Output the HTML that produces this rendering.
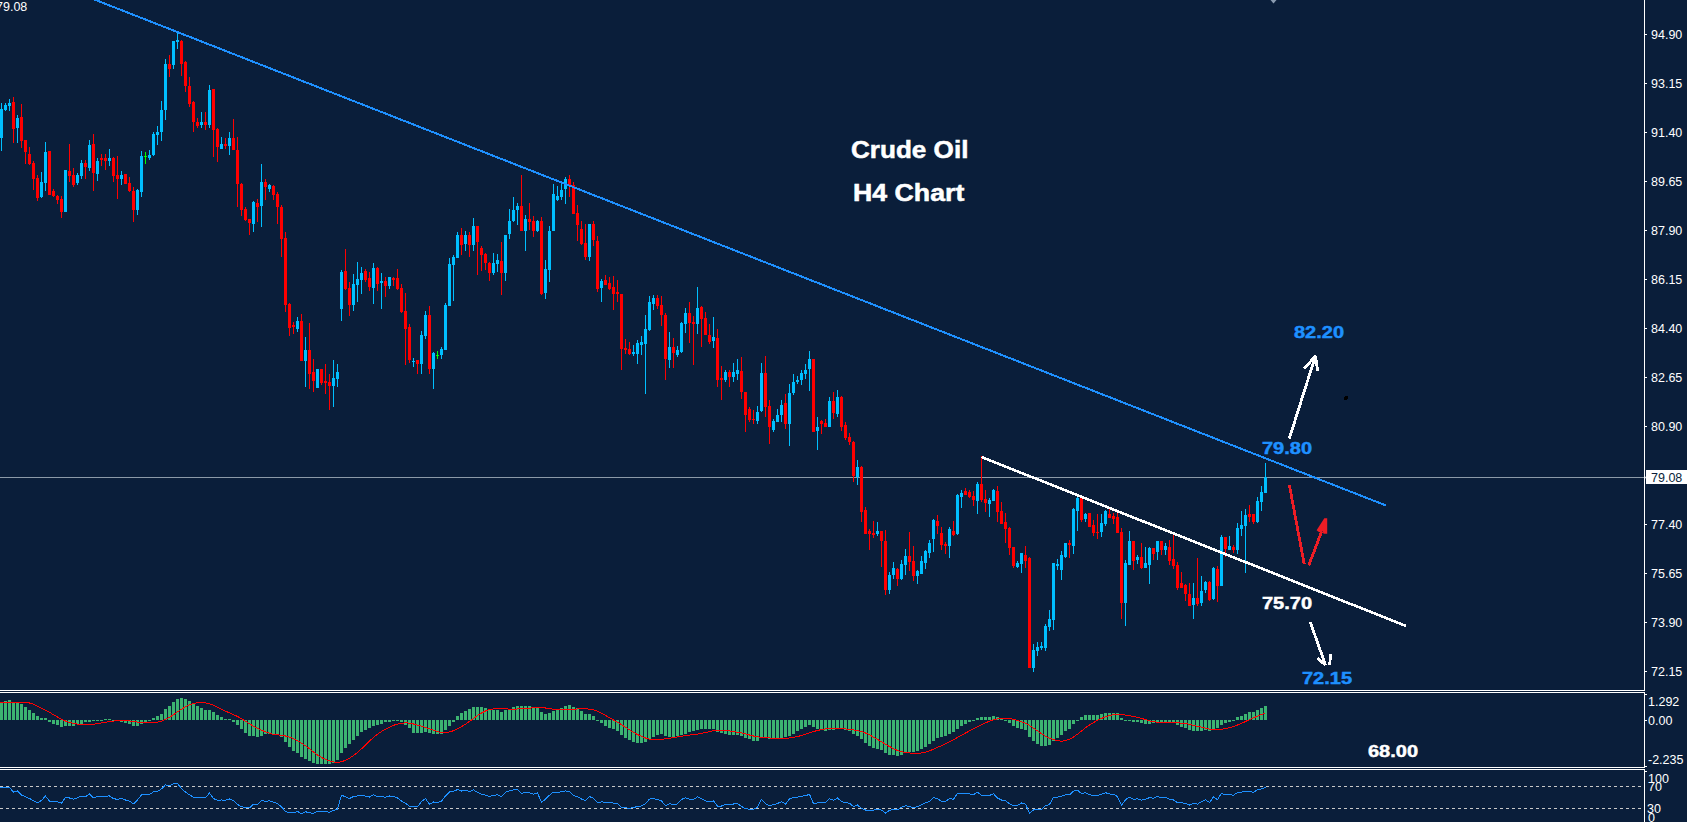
<!DOCTYPE html>
<html><head><meta charset="utf-8"><style>
html,body{margin:0;padding:0;width:1687px;height:822px;overflow:hidden;background:#0a1e3a;}
.ax{position:absolute;font-family:"Liberation Sans",sans-serif;font-size:12.5px;line-height:14px;color:#ffffff;white-space:nowrap;}
.dk{color:#0a1e3a;}
.ttl{position:absolute;-webkit-text-stroke:0.5px #ffffff;font-family:"Liberation Sans",sans-serif;font-weight:bold;font-size:23px;line-height:26px;color:#ffffff;white-space:nowrap;transform-origin:0 0;}
.lv{position:absolute;-webkit-text-stroke:0.45px currentColor;font-family:"Liberation Sans",sans-serif;font-weight:bold;font-size:16px;line-height:18px;white-space:nowrap;transform-origin:0 0;}
</style></head><body>
<svg width="1687" height="822" viewBox="0 0 1687 822" style="position:absolute;left:0;top:0"><rect x="0" y="477" width="1644" height="1" fill="#8c9aa8"/><g shape-rendering="crispEdges"><rect x="1" y="103" width="1" height="48" fill="#00bfff"/><rect x="0" y="109" width="3" height="29" fill="#00bfff"/><rect x="5" y="103" width="1" height="8" fill="#00bfff"/><rect x="4" y="105" width="3" height="5" fill="#00bfff"/><rect x="9" y="99" width="1" height="12" fill="#00bfff"/><rect x="8" y="103" width="3" height="3" fill="#00bfff"/><rect x="13" y="97" width="1" height="46" fill="#ff0000"/><rect x="12" y="102" width="3" height="27" fill="#ff0000"/><rect x="17" y="115" width="1" height="28" fill="#00bfff"/><rect x="16" y="118" width="3" height="10" fill="#00bfff"/><rect x="21" y="104" width="1" height="44" fill="#ff0000"/><rect x="20" y="117" width="3" height="24" fill="#ff0000"/><rect x="25" y="140" width="1" height="24" fill="#ff0000"/><rect x="24" y="140" width="3" height="12" fill="#ff0000"/><rect x="29" y="147" width="1" height="18" fill="#ff0000"/><rect x="28" y="154" width="3" height="10" fill="#ff0000"/><rect x="33" y="161" width="1" height="29" fill="#ff0000"/><rect x="32" y="163" width="3" height="16" fill="#ff0000"/><rect x="37" y="175" width="1" height="26" fill="#ff0000"/><rect x="36" y="178" width="3" height="20" fill="#ff0000"/><rect x="41" y="172" width="1" height="26" fill="#00bfff"/><rect x="40" y="182" width="3" height="15" fill="#00bfff"/><rect x="45" y="142" width="1" height="49" fill="#00bfff"/><rect x="44" y="152" width="3" height="31" fill="#00bfff"/><rect x="49" y="151" width="1" height="44" fill="#ff0000"/><rect x="48" y="151" width="3" height="44" fill="#ff0000"/><rect x="53" y="189" width="1" height="8" fill="#ff0000"/><rect x="52" y="191" width="3" height="5" fill="#ff0000"/><rect x="57" y="195" width="1" height="9" fill="#ff0000"/><rect x="56" y="196" width="3" height="4" fill="#ff0000"/><rect x="61" y="196" width="1" height="22" fill="#ff0000"/><rect x="60" y="199" width="3" height="13" fill="#ff0000"/><rect x="65" y="170" width="1" height="42" fill="#00bfff"/><rect x="64" y="170" width="3" height="42" fill="#00bfff"/><rect x="69" y="144" width="1" height="38" fill="#ff0000"/><rect x="68" y="171" width="3" height="5" fill="#ff0000"/><rect x="73" y="168" width="1" height="19" fill="#ff0000"/><rect x="72" y="175" width="3" height="10" fill="#ff0000"/><rect x="77" y="173" width="1" height="12" fill="#00bfff"/><rect x="76" y="175" width="3" height="8" fill="#00bfff"/><rect x="81" y="160" width="1" height="19" fill="#00bfff"/><rect x="80" y="163" width="3" height="13" fill="#00bfff"/><rect x="85" y="160" width="1" height="19" fill="#ff0000"/><rect x="84" y="163" width="3" height="4" fill="#ff0000"/><rect x="89" y="140" width="1" height="31" fill="#00bfff"/><rect x="88" y="145" width="3" height="23" fill="#00bfff"/><rect x="93" y="134" width="1" height="57" fill="#ff0000"/><rect x="92" y="144" width="3" height="29" fill="#ff0000"/><rect x="97" y="158" width="1" height="23" fill="#00bfff"/><rect x="96" y="161" width="3" height="13" fill="#00bfff"/><rect x="101" y="154" width="1" height="12" fill="#ff0000"/><rect x="100" y="158" width="3" height="2" fill="#ff0000"/><rect x="105" y="154" width="1" height="16" fill="#ff0000"/><rect x="104" y="158" width="3" height="3" fill="#ff0000"/><rect x="109" y="149" width="1" height="17" fill="#00bfff"/><rect x="108" y="158" width="3" height="3" fill="#00bfff"/><rect x="113" y="157" width="1" height="25" fill="#ff0000"/><rect x="112" y="158" width="3" height="18" fill="#ff0000"/><rect x="117" y="156" width="1" height="43" fill="#ff0000"/><rect x="116" y="175" width="3" height="4" fill="#ff0000"/><rect x="121" y="171" width="1" height="14" fill="#00bfff"/><rect x="120" y="175" width="3" height="4" fill="#00bfff"/><rect x="125" y="174" width="1" height="10" fill="#ff0000"/><rect x="124" y="174" width="3" height="10" fill="#ff0000"/><rect x="129" y="177" width="1" height="15" fill="#ff0000"/><rect x="128" y="183" width="3" height="8" fill="#ff0000"/><rect x="133" y="187" width="1" height="35" fill="#ff0000"/><rect x="132" y="191" width="3" height="19" fill="#ff0000"/><rect x="137" y="189" width="1" height="26" fill="#00bfff"/><rect x="136" y="190" width="3" height="20" fill="#00bfff"/><rect x="141" y="151" width="1" height="46" fill="#00bfff"/><rect x="140" y="156" width="3" height="36" fill="#00bfff"/><rect x="145" y="152" width="1" height="12" fill="#00ff00"/><rect x="144" y="156" width="3" height="1" fill="#00ff00"/><rect x="149" y="150" width="1" height="10" fill="#00bfff"/><rect x="148" y="155" width="3" height="3" fill="#00bfff"/><rect x="153" y="132" width="1" height="24" fill="#00bfff"/><rect x="152" y="134" width="3" height="21" fill="#00bfff"/><rect x="157" y="126" width="1" height="19" fill="#00bfff"/><rect x="156" y="132" width="3" height="3" fill="#00bfff"/><rect x="161" y="101" width="1" height="40" fill="#00bfff"/><rect x="160" y="110" width="3" height="22" fill="#00bfff"/><rect x="165" y="59" width="1" height="61" fill="#00bfff"/><rect x="164" y="64" width="3" height="46" fill="#00bfff"/><rect x="169" y="55" width="1" height="22" fill="#ff0000"/><rect x="168" y="64" width="3" height="5" fill="#ff0000"/><rect x="173" y="41" width="1" height="28" fill="#00bfff"/><rect x="172" y="41" width="3" height="24" fill="#00bfff"/><rect x="177" y="32" width="1" height="17" fill="#00bfff"/><rect x="176" y="40" width="3" height="2" fill="#00bfff"/><rect x="181" y="40" width="1" height="36" fill="#ff0000"/><rect x="180" y="41" width="3" height="23" fill="#ff0000"/><rect x="185" y="61" width="1" height="31" fill="#ff0000"/><rect x="184" y="62" width="3" height="24" fill="#ff0000"/><rect x="189" y="77" width="1" height="30" fill="#ff0000"/><rect x="188" y="86" width="3" height="18" fill="#ff0000"/><rect x="193" y="101" width="1" height="31" fill="#ff0000"/><rect x="192" y="102" width="3" height="20" fill="#ff0000"/><rect x="197" y="118" width="1" height="10" fill="#ff0000"/><rect x="196" y="122" width="3" height="4" fill="#ff0000"/><rect x="201" y="112" width="1" height="16" fill="#00bfff"/><rect x="200" y="122" width="3" height="3" fill="#00bfff"/><rect x="205" y="112" width="1" height="18" fill="#ff0000"/><rect x="204" y="122" width="3" height="3" fill="#ff0000"/><rect x="209" y="85" width="1" height="43" fill="#00bfff"/><rect x="208" y="90" width="3" height="35" fill="#00bfff"/><rect x="213" y="89" width="1" height="68" fill="#ff0000"/><rect x="212" y="89" width="3" height="41" fill="#ff0000"/><rect x="217" y="128" width="1" height="34" fill="#ff0000"/><rect x="216" y="129" width="3" height="18" fill="#ff0000"/><rect x="221" y="137" width="1" height="12" fill="#00bfff"/><rect x="220" y="144" width="3" height="5" fill="#00bfff"/><rect x="225" y="138" width="1" height="11" fill="#ff0000"/><rect x="224" y="144" width="3" height="2" fill="#ff0000"/><rect x="229" y="132" width="1" height="23" fill="#00bfff"/><rect x="228" y="138" width="3" height="8" fill="#00bfff"/><rect x="233" y="119" width="1" height="31" fill="#ff0000"/><rect x="232" y="138" width="3" height="12" fill="#ff0000"/><rect x="237" y="137" width="1" height="70" fill="#ff0000"/><rect x="236" y="150" width="3" height="34" fill="#ff0000"/><rect x="241" y="183" width="1" height="33" fill="#ff0000"/><rect x="240" y="184" width="3" height="26" fill="#ff0000"/><rect x="245" y="207" width="1" height="14" fill="#ff0000"/><rect x="244" y="209" width="3" height="11" fill="#ff0000"/><rect x="249" y="219" width="1" height="16" fill="#ff0000"/><rect x="248" y="219" width="3" height="4" fill="#ff0000"/><rect x="253" y="201" width="1" height="31" fill="#00bfff"/><rect x="252" y="202" width="3" height="22" fill="#00bfff"/><rect x="257" y="199" width="1" height="23" fill="#ff0000"/><rect x="256" y="203" width="3" height="4" fill="#ff0000"/><rect x="261" y="164" width="1" height="63" fill="#00bfff"/><rect x="260" y="182" width="3" height="24" fill="#00bfff"/><rect x="265" y="179" width="1" height="21" fill="#ff0000"/><rect x="264" y="182" width="3" height="5" fill="#ff0000"/><rect x="269" y="184" width="1" height="8" fill="#00bfff"/><rect x="268" y="185" width="3" height="4" fill="#00bfff"/><rect x="273" y="185" width="1" height="15" fill="#ff0000"/><rect x="272" y="186" width="3" height="9" fill="#ff0000"/><rect x="277" y="192" width="1" height="32" fill="#ff0000"/><rect x="276" y="194" width="3" height="13" fill="#ff0000"/><rect x="281" y="205" width="1" height="52" fill="#ff0000"/><rect x="280" y="207" width="3" height="32" fill="#ff0000"/><rect x="285" y="232" width="1" height="80" fill="#ff0000"/><rect x="284" y="238" width="3" height="67" fill="#ff0000"/><rect x="289" y="303" width="1" height="33" fill="#ff0000"/><rect x="288" y="304" width="3" height="24" fill="#ff0000"/><rect x="293" y="322" width="1" height="12" fill="#ff0000"/><rect x="292" y="325" width="3" height="2" fill="#ff0000"/><rect x="297" y="317" width="1" height="15" fill="#00bfff"/><rect x="296" y="321" width="3" height="8" fill="#00bfff"/><rect x="301" y="314" width="1" height="47" fill="#ff0000"/><rect x="300" y="321" width="3" height="40" fill="#ff0000"/><rect x="305" y="337" width="1" height="50" fill="#00bfff"/><rect x="304" y="350" width="3" height="11" fill="#00bfff"/><rect x="309" y="323" width="1" height="66" fill="#ff0000"/><rect x="308" y="350" width="3" height="24" fill="#ff0000"/><rect x="313" y="359" width="1" height="33" fill="#ff0000"/><rect x="312" y="372" width="3" height="9" fill="#ff0000"/><rect x="317" y="369" width="1" height="19" fill="#00bfff"/><rect x="316" y="369" width="3" height="19" fill="#00bfff"/><rect x="321" y="369" width="1" height="16" fill="#ff0000"/><rect x="320" y="369" width="3" height="14" fill="#ff0000"/><rect x="325" y="364" width="1" height="30" fill="#ff0000"/><rect x="324" y="381" width="3" height="2" fill="#ff0000"/><rect x="329" y="374" width="1" height="36" fill="#ff0000"/><rect x="328" y="382" width="3" height="4" fill="#ff0000"/><rect x="333" y="360" width="1" height="47" fill="#00bfff"/><rect x="332" y="378" width="3" height="8" fill="#00bfff"/><rect x="337" y="364" width="1" height="23" fill="#00bfff"/><rect x="336" y="372" width="3" height="7" fill="#00bfff"/><rect x="341" y="270" width="1" height="51" fill="#00bfff"/><rect x="340" y="272" width="3" height="37" fill="#00bfff"/><rect x="345" y="249" width="1" height="41" fill="#ff0000"/><rect x="344" y="271" width="3" height="18" fill="#ff0000"/><rect x="349" y="282" width="1" height="34" fill="#ff0000"/><rect x="348" y="288" width="3" height="17" fill="#ff0000"/><rect x="353" y="274" width="1" height="37" fill="#00bfff"/><rect x="352" y="284" width="3" height="21" fill="#00bfff"/><rect x="357" y="262" width="1" height="40" fill="#00bfff"/><rect x="356" y="279" width="3" height="6" fill="#00bfff"/><rect x="361" y="267" width="1" height="27" fill="#00bfff"/><rect x="360" y="273" width="3" height="7" fill="#00bfff"/><rect x="365" y="269" width="1" height="13" fill="#ff0000"/><rect x="364" y="271" width="3" height="9" fill="#ff0000"/><rect x="369" y="272" width="1" height="19" fill="#ff0000"/><rect x="368" y="278" width="3" height="9" fill="#ff0000"/><rect x="373" y="263" width="1" height="41" fill="#00bfff"/><rect x="372" y="268" width="3" height="20" fill="#00bfff"/><rect x="377" y="267" width="1" height="24" fill="#ff0000"/><rect x="376" y="268" width="3" height="16" fill="#ff0000"/><rect x="381" y="273" width="1" height="36" fill="#00bfff"/><rect x="380" y="281" width="3" height="2" fill="#00bfff"/><rect x="385" y="277" width="1" height="20" fill="#ff0000"/><rect x="384" y="281" width="3" height="5" fill="#ff0000"/><rect x="389" y="277" width="1" height="12" fill="#00bfff"/><rect x="388" y="277" width="3" height="9" fill="#00bfff"/><rect x="393" y="277" width="1" height="9" fill="#ff0000"/><rect x="392" y="278" width="3" height="2" fill="#ff0000"/><rect x="397" y="269" width="1" height="21" fill="#ff0000"/><rect x="396" y="278" width="3" height="11" fill="#ff0000"/><rect x="401" y="284" width="1" height="29" fill="#ff0000"/><rect x="400" y="288" width="3" height="24" fill="#ff0000"/><rect x="405" y="293" width="1" height="72" fill="#ff0000"/><rect x="404" y="311" width="3" height="18" fill="#ff0000"/><rect x="409" y="324" width="1" height="39" fill="#ff0000"/><rect x="408" y="327" width="3" height="33" fill="#ff0000"/><rect x="413" y="358" width="1" height="9" fill="#00bfff"/><rect x="412" y="361" width="3" height="1" fill="#00bfff"/><rect x="417" y="360" width="1" height="14" fill="#ff0000"/><rect x="416" y="360" width="3" height="4" fill="#ff0000"/><rect x="421" y="331" width="1" height="43" fill="#00bfff"/><rect x="420" y="335" width="3" height="29" fill="#00bfff"/><rect x="425" y="311" width="1" height="28" fill="#00bfff"/><rect x="424" y="315" width="3" height="21" fill="#00bfff"/><rect x="429" y="306" width="1" height="68" fill="#ff0000"/><rect x="428" y="315" width="3" height="54" fill="#ff0000"/><rect x="433" y="352" width="1" height="37" fill="#00bfff"/><rect x="432" y="353" width="3" height="16" fill="#00bfff"/><rect x="437" y="351" width="1" height="8" fill="#00ff00"/><rect x="436" y="355" width="3" height="1" fill="#00ff00"/><rect x="441" y="347" width="1" height="12" fill="#00bfff"/><rect x="440" y="349" width="3" height="6" fill="#00bfff"/><rect x="445" y="303" width="1" height="47" fill="#00bfff"/><rect x="444" y="305" width="3" height="45" fill="#00bfff"/><rect x="449" y="258" width="1" height="48" fill="#00bfff"/><rect x="448" y="264" width="3" height="42" fill="#00bfff"/><rect x="453" y="255" width="1" height="46" fill="#00bfff"/><rect x="452" y="257" width="3" height="8" fill="#00bfff"/><rect x="457" y="232" width="1" height="26" fill="#00bfff"/><rect x="456" y="235" width="3" height="23" fill="#00bfff"/><rect x="461" y="228" width="1" height="27" fill="#ff0000"/><rect x="460" y="235" width="3" height="10" fill="#ff0000"/><rect x="465" y="231" width="1" height="20" fill="#00bfff"/><rect x="464" y="235" width="3" height="9" fill="#00bfff"/><rect x="469" y="232" width="1" height="25" fill="#ff0000"/><rect x="468" y="235" width="3" height="10" fill="#ff0000"/><rect x="473" y="218" width="1" height="33" fill="#00bfff"/><rect x="472" y="226" width="3" height="19" fill="#00bfff"/><rect x="477" y="226" width="1" height="49" fill="#ff0000"/><rect x="476" y="226" width="3" height="16" fill="#ff0000"/><rect x="481" y="246" width="1" height="25" fill="#ff0000"/><rect x="480" y="248" width="3" height="7" fill="#ff0000"/><rect x="485" y="253" width="1" height="17" fill="#ff0000"/><rect x="484" y="254" width="3" height="9" fill="#ff0000"/><rect x="489" y="262" width="1" height="19" fill="#ff0000"/><rect x="488" y="263" width="3" height="10" fill="#ff0000"/><rect x="493" y="253" width="1" height="22" fill="#00bfff"/><rect x="492" y="263" width="3" height="10" fill="#00bfff"/><rect x="497" y="254" width="1" height="18" fill="#00bfff"/><rect x="496" y="260" width="3" height="4" fill="#00bfff"/><rect x="501" y="242" width="1" height="53" fill="#ff0000"/><rect x="500" y="261" width="3" height="12" fill="#ff0000"/><rect x="505" y="235" width="1" height="46" fill="#00bfff"/><rect x="504" y="235" width="3" height="38" fill="#00bfff"/><rect x="509" y="209" width="1" height="30" fill="#00bfff"/><rect x="508" y="221" width="3" height="13" fill="#00bfff"/><rect x="513" y="197" width="1" height="25" fill="#00bfff"/><rect x="512" y="210" width="3" height="11" fill="#00bfff"/><rect x="517" y="203" width="1" height="22" fill="#00bfff"/><rect x="516" y="206" width="3" height="4" fill="#00bfff"/><rect x="521" y="175" width="1" height="56" fill="#ff0000"/><rect x="520" y="206" width="3" height="25" fill="#ff0000"/><rect x="525" y="215" width="1" height="36" fill="#00bfff"/><rect x="524" y="219" width="3" height="12" fill="#00bfff"/><rect x="529" y="203" width="1" height="27" fill="#ff0000"/><rect x="528" y="219" width="3" height="3" fill="#ff0000"/><rect x="533" y="216" width="1" height="21" fill="#ff0000"/><rect x="532" y="221" width="3" height="10" fill="#ff0000"/><rect x="537" y="220" width="1" height="12" fill="#00bfff"/><rect x="536" y="221" width="3" height="10" fill="#00bfff"/><rect x="541" y="217" width="1" height="78" fill="#ff0000"/><rect x="540" y="221" width="3" height="73" fill="#ff0000"/><rect x="545" y="260" width="1" height="39" fill="#00bfff"/><rect x="544" y="269" width="3" height="24" fill="#00bfff"/><rect x="549" y="226" width="1" height="56" fill="#00bfff"/><rect x="548" y="231" width="3" height="39" fill="#00bfff"/><rect x="553" y="184" width="1" height="47" fill="#00bfff"/><rect x="552" y="194" width="3" height="37" fill="#00bfff"/><rect x="557" y="186" width="1" height="15" fill="#00bfff"/><rect x="556" y="196" width="3" height="4" fill="#00bfff"/><rect x="561" y="184" width="1" height="16" fill="#00bfff"/><rect x="560" y="190" width="3" height="7" fill="#00bfff"/><rect x="565" y="177" width="1" height="27" fill="#00bfff"/><rect x="564" y="179" width="3" height="10" fill="#00bfff"/><rect x="569" y="175" width="1" height="22" fill="#ff0000"/><rect x="568" y="179" width="3" height="6" fill="#ff0000"/><rect x="573" y="182" width="1" height="32" fill="#ff0000"/><rect x="572" y="185" width="3" height="29" fill="#ff0000"/><rect x="577" y="205" width="1" height="36" fill="#ff0000"/><rect x="576" y="213" width="3" height="12" fill="#ff0000"/><rect x="581" y="221" width="1" height="24" fill="#ff0000"/><rect x="580" y="229" width="3" height="15" fill="#ff0000"/><rect x="585" y="224" width="1" height="36" fill="#ff0000"/><rect x="584" y="243" width="3" height="14" fill="#ff0000"/><rect x="589" y="224" width="1" height="37" fill="#00bfff"/><rect x="588" y="224" width="3" height="33" fill="#00bfff"/><rect x="593" y="221" width="1" height="25" fill="#ff0000"/><rect x="592" y="224" width="3" height="16" fill="#ff0000"/><rect x="597" y="236" width="1" height="56" fill="#ff0000"/><rect x="596" y="241" width="3" height="48" fill="#ff0000"/><rect x="601" y="279" width="1" height="23" fill="#00bfff"/><rect x="600" y="281" width="3" height="7" fill="#00bfff"/><rect x="605" y="275" width="1" height="10" fill="#ff0000"/><rect x="604" y="280" width="3" height="5" fill="#ff0000"/><rect x="609" y="277" width="1" height="13" fill="#ff0000"/><rect x="608" y="283" width="3" height="6" fill="#ff0000"/><rect x="613" y="276" width="1" height="34" fill="#ff0000"/><rect x="612" y="287" width="3" height="7" fill="#ff0000"/><rect x="617" y="280" width="1" height="22" fill="#ff0000"/><rect x="616" y="292" width="3" height="2" fill="#ff0000"/><rect x="621" y="294" width="1" height="76" fill="#ff0000"/><rect x="620" y="294" width="3" height="55" fill="#ff0000"/><rect x="625" y="339" width="1" height="15" fill="#ff0000"/><rect x="624" y="348" width="3" height="2" fill="#ff0000"/><rect x="629" y="342" width="1" height="13" fill="#ff0000"/><rect x="628" y="349" width="3" height="5" fill="#ff0000"/><rect x="633" y="345" width="1" height="11" fill="#00bfff"/><rect x="632" y="352" width="3" height="2" fill="#00bfff"/><rect x="637" y="340" width="1" height="24" fill="#00bfff"/><rect x="636" y="343" width="3" height="11" fill="#00bfff"/><rect x="641" y="336" width="1" height="19" fill="#00bfff"/><rect x="640" y="342" width="3" height="3" fill="#00bfff"/><rect x="645" y="315" width="1" height="79" fill="#00bfff"/><rect x="644" y="329" width="3" height="15" fill="#00bfff"/><rect x="649" y="296" width="1" height="35" fill="#00bfff"/><rect x="648" y="302" width="3" height="28" fill="#00bfff"/><rect x="653" y="295" width="1" height="15" fill="#00bfff"/><rect x="652" y="298" width="3" height="6" fill="#00bfff"/><rect x="657" y="295" width="1" height="14" fill="#ff0000"/><rect x="656" y="298" width="3" height="8" fill="#ff0000"/><rect x="661" y="296" width="1" height="30" fill="#ff0000"/><rect x="660" y="305" width="3" height="10" fill="#ff0000"/><rect x="665" y="313" width="1" height="67" fill="#ff0000"/><rect x="664" y="315" width="3" height="44" fill="#ff0000"/><rect x="669" y="332" width="1" height="36" fill="#00bfff"/><rect x="668" y="347" width="3" height="13" fill="#00bfff"/><rect x="673" y="338" width="1" height="30" fill="#ff0000"/><rect x="672" y="347" width="3" height="6" fill="#ff0000"/><rect x="677" y="346" width="1" height="11" fill="#00bfff"/><rect x="676" y="350" width="3" height="5" fill="#00bfff"/><rect x="681" y="322" width="1" height="31" fill="#00bfff"/><rect x="680" y="323" width="3" height="29" fill="#00bfff"/><rect x="685" y="308" width="1" height="25" fill="#00bfff"/><rect x="684" y="313" width="3" height="11" fill="#00bfff"/><rect x="689" y="302" width="1" height="41" fill="#ff0000"/><rect x="688" y="313" width="3" height="10" fill="#ff0000"/><rect x="693" y="316" width="1" height="49" fill="#ff0000"/><rect x="692" y="322" width="3" height="2" fill="#ff0000"/><rect x="697" y="287" width="1" height="47" fill="#00bfff"/><rect x="696" y="308" width="3" height="16" fill="#00bfff"/><rect x="701" y="306" width="1" height="41" fill="#ff0000"/><rect x="700" y="307" width="3" height="12" fill="#ff0000"/><rect x="705" y="312" width="1" height="23" fill="#ff0000"/><rect x="704" y="318" width="3" height="17" fill="#ff0000"/><rect x="709" y="324" width="1" height="20" fill="#ff0000"/><rect x="708" y="335" width="3" height="7" fill="#ff0000"/><rect x="713" y="317" width="1" height="31" fill="#00bfff"/><rect x="712" y="337" width="3" height="4" fill="#00bfff"/><rect x="717" y="329" width="1" height="58" fill="#ff0000"/><rect x="716" y="338" width="3" height="42" fill="#ff0000"/><rect x="721" y="366" width="1" height="34" fill="#ff0000"/><rect x="720" y="378" width="3" height="2" fill="#ff0000"/><rect x="725" y="370" width="1" height="12" fill="#00bfff"/><rect x="724" y="372" width="3" height="8" fill="#00bfff"/><rect x="729" y="370" width="1" height="17" fill="#ff0000"/><rect x="728" y="372" width="3" height="5" fill="#ff0000"/><rect x="733" y="363" width="1" height="19" fill="#00bfff"/><rect x="732" y="372" width="3" height="5" fill="#00bfff"/><rect x="737" y="359" width="1" height="21" fill="#00bfff"/><rect x="736" y="370" width="3" height="4" fill="#00bfff"/><rect x="741" y="357" width="1" height="42" fill="#ff0000"/><rect x="740" y="371" width="3" height="21" fill="#ff0000"/><rect x="745" y="392" width="1" height="40" fill="#ff0000"/><rect x="744" y="392" width="3" height="23" fill="#ff0000"/><rect x="749" y="407" width="1" height="15" fill="#ff0000"/><rect x="748" y="409" width="3" height="11" fill="#ff0000"/><rect x="753" y="410" width="1" height="14" fill="#ff0000"/><rect x="752" y="419" width="3" height="1" fill="#ff0000"/><rect x="757" y="406" width="1" height="18" fill="#00bfff"/><rect x="756" y="412" width="3" height="9" fill="#00bfff"/><rect x="761" y="363" width="1" height="49" fill="#00bfff"/><rect x="760" y="373" width="3" height="38" fill="#00bfff"/><rect x="765" y="356" width="1" height="61" fill="#ff0000"/><rect x="764" y="373" width="3" height="34" fill="#ff0000"/><rect x="769" y="400" width="1" height="44" fill="#ff0000"/><rect x="768" y="406" width="3" height="21" fill="#ff0000"/><rect x="773" y="419" width="1" height="13" fill="#00bfff"/><rect x="772" y="421" width="3" height="9" fill="#00bfff"/><rect x="777" y="409" width="1" height="13" fill="#00bfff"/><rect x="776" y="415" width="3" height="7" fill="#00bfff"/><rect x="781" y="400" width="1" height="22" fill="#00bfff"/><rect x="780" y="405" width="3" height="10" fill="#00bfff"/><rect x="785" y="394" width="1" height="35" fill="#ff0000"/><rect x="784" y="403" width="3" height="21" fill="#ff0000"/><rect x="789" y="384" width="1" height="62" fill="#00bfff"/><rect x="788" y="393" width="3" height="31" fill="#00bfff"/><rect x="793" y="374" width="1" height="21" fill="#00bfff"/><rect x="792" y="382" width="3" height="11" fill="#00bfff"/><rect x="797" y="376" width="1" height="8" fill="#00bfff"/><rect x="796" y="380" width="3" height="2" fill="#00bfff"/><rect x="801" y="370" width="1" height="15" fill="#00bfff"/><rect x="800" y="373" width="3" height="7" fill="#00bfff"/><rect x="805" y="364" width="1" height="15" fill="#00bfff"/><rect x="804" y="370" width="3" height="4" fill="#00bfff"/><rect x="809" y="351" width="1" height="40" fill="#00bfff"/><rect x="808" y="359" width="3" height="10" fill="#00bfff"/><rect x="813" y="359" width="1" height="73" fill="#ff0000"/><rect x="812" y="359" width="3" height="73" fill="#ff0000"/><rect x="817" y="417" width="1" height="33" fill="#00bfff"/><rect x="816" y="427" width="3" height="4" fill="#00bfff"/><rect x="821" y="420" width="1" height="14" fill="#ff0000"/><rect x="820" y="421" width="3" height="3" fill="#ff0000"/><rect x="825" y="419" width="1" height="8" fill="#ff0000"/><rect x="824" y="423" width="3" height="4" fill="#ff0000"/><rect x="829" y="397" width="1" height="30" fill="#00bfff"/><rect x="828" y="401" width="3" height="26" fill="#00bfff"/><rect x="833" y="392" width="1" height="27" fill="#ff0000"/><rect x="832" y="401" width="3" height="12" fill="#ff0000"/><rect x="837" y="390" width="1" height="27" fill="#00bfff"/><rect x="836" y="397" width="3" height="17" fill="#00bfff"/><rect x="841" y="396" width="1" height="35" fill="#ff0000"/><rect x="840" y="397" width="3" height="30" fill="#ff0000"/><rect x="845" y="422" width="1" height="18" fill="#ff0000"/><rect x="844" y="425" width="3" height="13" fill="#ff0000"/><rect x="849" y="433" width="1" height="12" fill="#ff0000"/><rect x="848" y="437" width="3" height="5" fill="#ff0000"/><rect x="853" y="441" width="1" height="41" fill="#ff0000"/><rect x="852" y="442" width="3" height="34" fill="#ff0000"/><rect x="857" y="460" width="1" height="25" fill="#00bfff"/><rect x="856" y="467" width="3" height="10" fill="#00bfff"/><rect x="861" y="466" width="1" height="56" fill="#ff0000"/><rect x="860" y="467" width="3" height="45" fill="#ff0000"/><rect x="865" y="507" width="1" height="27" fill="#ff0000"/><rect x="864" y="510" width="3" height="24" fill="#ff0000"/><rect x="869" y="529" width="1" height="21" fill="#ff0000"/><rect x="868" y="531" width="3" height="3" fill="#ff0000"/><rect x="873" y="521" width="1" height="17" fill="#ff0000"/><rect x="872" y="533" width="3" height="2" fill="#ff0000"/><rect x="877" y="522" width="1" height="14" fill="#00bfff"/><rect x="876" y="531" width="3" height="3" fill="#00bfff"/><rect x="881" y="531" width="1" height="36" fill="#ff0000"/><rect x="880" y="531" width="3" height="10" fill="#ff0000"/><rect x="885" y="530" width="1" height="65" fill="#ff0000"/><rect x="884" y="541" width="3" height="49" fill="#ff0000"/><rect x="889" y="572" width="1" height="22" fill="#00bfff"/><rect x="888" y="575" width="3" height="15" fill="#00bfff"/><rect x="893" y="562" width="1" height="17" fill="#00bfff"/><rect x="892" y="568" width="3" height="7" fill="#00bfff"/><rect x="897" y="568" width="1" height="18" fill="#ff0000"/><rect x="896" y="569" width="3" height="10" fill="#ff0000"/><rect x="901" y="560" width="1" height="20" fill="#00bfff"/><rect x="900" y="564" width="3" height="15" fill="#00bfff"/><rect x="905" y="549" width="1" height="26" fill="#00bfff"/><rect x="904" y="556" width="3" height="9" fill="#00bfff"/><rect x="909" y="532" width="1" height="39" fill="#ff0000"/><rect x="908" y="556" width="3" height="6" fill="#ff0000"/><rect x="913" y="546" width="1" height="35" fill="#ff0000"/><rect x="912" y="561" width="3" height="15" fill="#ff0000"/><rect x="917" y="570" width="1" height="14" fill="#00bfff"/><rect x="916" y="571" width="3" height="5" fill="#00bfff"/><rect x="921" y="556" width="1" height="18" fill="#00bfff"/><rect x="920" y="561" width="3" height="13" fill="#00bfff"/><rect x="925" y="550" width="1" height="19" fill="#00bfff"/><rect x="924" y="551" width="3" height="12" fill="#00bfff"/><rect x="929" y="540" width="1" height="18" fill="#00bfff"/><rect x="928" y="543" width="3" height="10" fill="#00bfff"/><rect x="933" y="519" width="1" height="33" fill="#00bfff"/><rect x="932" y="520" width="3" height="19" fill="#00bfff"/><rect x="937" y="515" width="1" height="19" fill="#ff0000"/><rect x="936" y="521" width="3" height="5" fill="#ff0000"/><rect x="941" y="527" width="1" height="23" fill="#ff0000"/><rect x="940" y="533" width="3" height="12" fill="#ff0000"/><rect x="945" y="542" width="1" height="12" fill="#ff0000"/><rect x="944" y="544" width="3" height="2" fill="#ff0000"/><rect x="949" y="527" width="1" height="31" fill="#00bfff"/><rect x="948" y="529" width="3" height="17" fill="#00bfff"/><rect x="953" y="521" width="1" height="15" fill="#ff0000"/><rect x="952" y="531" width="3" height="4" fill="#ff0000"/><rect x="957" y="494" width="1" height="41" fill="#00bfff"/><rect x="956" y="495" width="3" height="39" fill="#00bfff"/><rect x="961" y="490" width="1" height="18" fill="#00bfff"/><rect x="960" y="493" width="3" height="4" fill="#00bfff"/><rect x="965" y="488" width="1" height="7" fill="#ff0000"/><rect x="964" y="491" width="3" height="4" fill="#ff0000"/><rect x="969" y="490" width="1" height="8" fill="#ff0000"/><rect x="968" y="492" width="3" height="5" fill="#ff0000"/><rect x="973" y="491" width="1" height="15" fill="#ff0000"/><rect x="972" y="496" width="3" height="4" fill="#ff0000"/><rect x="977" y="482" width="1" height="32" fill="#00bfff"/><rect x="976" y="484" width="3" height="17" fill="#00bfff"/><rect x="981" y="456" width="1" height="46" fill="#ff0000"/><rect x="980" y="484" width="3" height="16" fill="#ff0000"/><rect x="985" y="490" width="1" height="22" fill="#ff0000"/><rect x="984" y="499" width="3" height="4" fill="#ff0000"/><rect x="989" y="498" width="1" height="19" fill="#00bfff"/><rect x="988" y="500" width="3" height="4" fill="#00bfff"/><rect x="993" y="489" width="1" height="12" fill="#00bfff"/><rect x="992" y="490" width="3" height="11" fill="#00bfff"/><rect x="997" y="486" width="1" height="36" fill="#ff0000"/><rect x="996" y="491" width="3" height="21" fill="#ff0000"/><rect x="1001" y="502" width="1" height="22" fill="#ff0000"/><rect x="1000" y="511" width="3" height="13" fill="#ff0000"/><rect x="1005" y="513" width="1" height="30" fill="#ff0000"/><rect x="1004" y="522" width="3" height="7" fill="#ff0000"/><rect x="1009" y="527" width="1" height="28" fill="#ff0000"/><rect x="1008" y="528" width="3" height="20" fill="#ff0000"/><rect x="1013" y="547" width="1" height="21" fill="#ff0000"/><rect x="1012" y="547" width="3" height="19" fill="#ff0000"/><rect x="1017" y="561" width="1" height="7" fill="#00bfff"/><rect x="1016" y="563" width="3" height="4" fill="#00bfff"/><rect x="1021" y="553" width="1" height="20" fill="#00bfff"/><rect x="1020" y="553" width="3" height="11" fill="#00bfff"/><rect x="1025" y="546" width="1" height="22" fill="#ff0000"/><rect x="1024" y="555" width="3" height="6" fill="#ff0000"/><rect x="1029" y="557" width="1" height="111" fill="#ff0000"/><rect x="1028" y="558" width="3" height="110" fill="#ff0000"/><rect x="1033" y="644" width="1" height="28" fill="#00bfff"/><rect x="1032" y="650" width="3" height="18" fill="#00bfff"/><rect x="1037" y="642" width="1" height="14" fill="#00bfff"/><rect x="1036" y="647" width="3" height="4" fill="#00bfff"/><rect x="1041" y="642" width="1" height="8" fill="#00bfff"/><rect x="1040" y="646" width="3" height="2" fill="#00bfff"/><rect x="1045" y="624" width="1" height="27" fill="#00bfff"/><rect x="1044" y="626" width="3" height="22" fill="#00bfff"/><rect x="1049" y="610" width="1" height="21" fill="#00bfff"/><rect x="1048" y="619" width="3" height="8" fill="#00bfff"/><rect x="1053" y="563" width="1" height="67" fill="#00bfff"/><rect x="1052" y="563" width="3" height="57" fill="#00bfff"/><rect x="1057" y="559" width="1" height="11" fill="#00bfff"/><rect x="1056" y="564" width="3" height="2" fill="#00bfff"/><rect x="1061" y="551" width="1" height="29" fill="#00bfff"/><rect x="1060" y="555" width="3" height="15" fill="#00bfff"/><rect x="1065" y="543" width="1" height="15" fill="#00bfff"/><rect x="1064" y="543" width="3" height="14" fill="#00bfff"/><rect x="1069" y="540" width="1" height="18" fill="#ff0000"/><rect x="1068" y="543" width="3" height="2" fill="#ff0000"/><rect x="1073" y="508" width="1" height="46" fill="#00bfff"/><rect x="1072" y="509" width="3" height="37" fill="#00bfff"/><rect x="1077" y="496" width="1" height="35" fill="#00bfff"/><rect x="1076" y="498" width="3" height="13" fill="#00bfff"/><rect x="1081" y="498" width="1" height="24" fill="#ff0000"/><rect x="1080" y="498" width="3" height="22" fill="#ff0000"/><rect x="1085" y="513" width="1" height="9" fill="#00bfff"/><rect x="1084" y="514" width="3" height="5" fill="#00bfff"/><rect x="1089" y="513" width="1" height="14" fill="#ff0000"/><rect x="1088" y="513" width="3" height="14" fill="#ff0000"/><rect x="1093" y="520" width="1" height="16" fill="#ff0000"/><rect x="1092" y="525" width="3" height="8" fill="#ff0000"/><rect x="1097" y="514" width="1" height="25" fill="#ff0000"/><rect x="1096" y="532" width="3" height="1" fill="#ff0000"/><rect x="1101" y="514" width="1" height="23" fill="#00bfff"/><rect x="1100" y="523" width="3" height="9" fill="#00bfff"/><rect x="1105" y="510" width="1" height="16" fill="#00bfff"/><rect x="1104" y="511" width="3" height="13" fill="#00bfff"/><rect x="1109" y="509" width="1" height="9" fill="#ff0000"/><rect x="1108" y="514" width="3" height="4" fill="#ff0000"/><rect x="1113" y="513" width="1" height="11" fill="#ff0000"/><rect x="1112" y="516" width="3" height="3" fill="#ff0000"/><rect x="1117" y="510" width="1" height="23" fill="#ff0000"/><rect x="1116" y="517" width="3" height="16" fill="#ff0000"/><rect x="1121" y="528" width="1" height="91" fill="#ff0000"/><rect x="1120" y="532" width="3" height="71" fill="#ff0000"/><rect x="1125" y="560" width="1" height="66" fill="#00bfff"/><rect x="1124" y="563" width="3" height="40" fill="#00bfff"/><rect x="1129" y="531" width="1" height="34" fill="#00bfff"/><rect x="1128" y="541" width="3" height="24" fill="#00bfff"/><rect x="1133" y="541" width="1" height="29" fill="#ff0000"/><rect x="1132" y="541" width="3" height="20" fill="#ff0000"/><rect x="1137" y="555" width="1" height="9" fill="#00bfff"/><rect x="1136" y="557" width="3" height="3" fill="#00bfff"/><rect x="1141" y="543" width="1" height="26" fill="#ff0000"/><rect x="1140" y="557" width="3" height="11" fill="#ff0000"/><rect x="1145" y="547" width="1" height="21" fill="#00bfff"/><rect x="1144" y="563" width="3" height="5" fill="#00bfff"/><rect x="1149" y="547" width="1" height="37" fill="#00bfff"/><rect x="1148" y="548" width="3" height="17" fill="#00bfff"/><rect x="1153" y="548" width="1" height="12" fill="#ff0000"/><rect x="1152" y="548" width="3" height="6" fill="#ff0000"/><rect x="1157" y="541" width="1" height="19" fill="#00bfff"/><rect x="1156" y="541" width="3" height="11" fill="#00bfff"/><rect x="1161" y="541" width="1" height="14" fill="#ff0000"/><rect x="1160" y="541" width="3" height="9" fill="#ff0000"/><rect x="1165" y="543" width="1" height="12" fill="#00bfff"/><rect x="1164" y="546" width="3" height="4" fill="#00bfff"/><rect x="1169" y="540" width="1" height="25" fill="#ff0000"/><rect x="1168" y="547" width="3" height="14" fill="#ff0000"/><rect x="1173" y="535" width="1" height="34" fill="#ff0000"/><rect x="1172" y="559" width="3" height="7" fill="#ff0000"/><rect x="1177" y="562" width="1" height="28" fill="#ff0000"/><rect x="1176" y="565" width="3" height="23" fill="#ff0000"/><rect x="1181" y="572" width="1" height="16" fill="#ff0000"/><rect x="1180" y="583" width="3" height="5" fill="#ff0000"/><rect x="1185" y="584" width="1" height="17" fill="#ff0000"/><rect x="1184" y="585" width="3" height="9" fill="#ff0000"/><rect x="1189" y="583" width="1" height="23" fill="#ff0000"/><rect x="1188" y="594" width="3" height="12" fill="#ff0000"/><rect x="1193" y="583" width="1" height="36" fill="#00bfff"/><rect x="1192" y="598" width="3" height="7" fill="#00bfff"/><rect x="1197" y="558" width="1" height="48" fill="#ff0000"/><rect x="1196" y="598" width="3" height="6" fill="#ff0000"/><rect x="1201" y="576" width="1" height="30" fill="#00bfff"/><rect x="1200" y="591" width="3" height="12" fill="#00bfff"/><rect x="1205" y="581" width="1" height="12" fill="#00bfff"/><rect x="1204" y="582" width="3" height="8" fill="#00bfff"/><rect x="1209" y="581" width="1" height="20" fill="#ff0000"/><rect x="1208" y="582" width="3" height="18" fill="#ff0000"/><rect x="1213" y="567" width="1" height="33" fill="#00bfff"/><rect x="1212" y="568" width="3" height="31" fill="#00bfff"/><rect x="1217" y="566" width="1" height="36" fill="#ff0000"/><rect x="1216" y="569" width="3" height="17" fill="#ff0000"/><rect x="1221" y="535" width="1" height="51" fill="#00bfff"/><rect x="1220" y="537" width="3" height="49" fill="#00bfff"/><rect x="1225" y="537" width="1" height="20" fill="#ff0000"/><rect x="1224" y="537" width="3" height="12" fill="#ff0000"/><rect x="1229" y="536" width="1" height="14" fill="#00bfff"/><rect x="1228" y="546" width="3" height="4" fill="#00bfff"/><rect x="1233" y="545" width="1" height="8" fill="#ff0000"/><rect x="1232" y="547" width="3" height="3" fill="#ff0000"/><rect x="1237" y="523" width="1" height="31" fill="#00bfff"/><rect x="1236" y="528" width="3" height="22" fill="#00bfff"/><rect x="1241" y="511" width="1" height="25" fill="#00bfff"/><rect x="1240" y="525" width="3" height="4" fill="#00bfff"/><rect x="1245" y="509" width="1" height="64" fill="#00bfff"/><rect x="1244" y="515" width="3" height="11" fill="#00bfff"/><rect x="1249" y="505" width="1" height="17" fill="#ff0000"/><rect x="1248" y="514" width="3" height="3" fill="#ff0000"/><rect x="1253" y="514" width="1" height="10" fill="#ff0000"/><rect x="1252" y="514" width="3" height="8" fill="#ff0000"/><rect x="1257" y="497" width="1" height="26" fill="#00bfff"/><rect x="1256" y="501" width="3" height="21" fill="#00bfff"/><rect x="1261" y="486" width="1" height="25" fill="#00bfff"/><rect x="1260" y="492" width="3" height="10" fill="#00bfff"/><rect x="1265" y="463" width="1" height="30" fill="#00bfff"/><rect x="1264" y="477" width="3" height="16" fill="#00bfff"/></g><g fill="#3cb371" shape-rendering="crispEdges"><rect x="0" y="702" width="3" height="18"/><rect x="4" y="701" width="3" height="19"/><rect x="8" y="700" width="3" height="20"/><rect x="12" y="702" width="3" height="18"/><rect x="16" y="702" width="3" height="18"/><rect x="20" y="704" width="3" height="16"/><rect x="24" y="707" width="3" height="13"/><rect x="28" y="710" width="3" height="10"/><rect x="32" y="713" width="3" height="7"/><rect x="36" y="716" width="3" height="4"/><rect x="40" y="718" width="3" height="2"/><rect x="44" y="718" width="3" height="2"/><rect x="48" y="720" width="3" height="2"/><rect x="52" y="720" width="3" height="4"/><rect x="56" y="720" width="3" height="5"/><rect x="60" y="720" width="3" height="7"/><rect x="64" y="720" width="3" height="6"/><rect x="68" y="720" width="3" height="6"/><rect x="72" y="720" width="3" height="6"/><rect x="76" y="720" width="3" height="4"/><rect x="80" y="720" width="3" height="4"/><rect x="84" y="720" width="3" height="2"/><rect x="88" y="720" width="3" height="2"/><rect x="92" y="720" width="3" height="1"/><rect x="96" y="720" width="3" height="1"/><rect x="100" y="720" width="3" height="1"/><rect x="104" y="719" width="3" height="1"/><rect x="108" y="719" width="3" height="1"/><rect x="112" y="720" width="3" height="1"/><rect x="116" y="720" width="3" height="1"/><rect x="120" y="720" width="3" height="2"/><rect x="124" y="720" width="3" height="3"/><rect x="128" y="720" width="3" height="4"/><rect x="132" y="720" width="3" height="6"/><rect x="136" y="720" width="3" height="6"/><rect x="140" y="720" width="3" height="4"/><rect x="144" y="720" width="3" height="2"/><rect x="148" y="720" width="3" height="1"/><rect x="152" y="718" width="3" height="2"/><rect x="156" y="716" width="3" height="4"/><rect x="160" y="714" width="3" height="6"/><rect x="164" y="709" width="3" height="11"/><rect x="168" y="706" width="3" height="14"/><rect x="172" y="702" width="3" height="18"/><rect x="176" y="699" width="3" height="21"/><rect x="180" y="698" width="3" height="22"/><rect x="184" y="699" width="3" height="21"/><rect x="188" y="701" width="3" height="19"/><rect x="192" y="703" width="3" height="17"/><rect x="196" y="706" width="3" height="14"/><rect x="200" y="708" width="3" height="12"/><rect x="204" y="710" width="3" height="10"/><rect x="208" y="710" width="3" height="10"/><rect x="212" y="712" width="3" height="8"/><rect x="216" y="715" width="3" height="5"/><rect x="220" y="717" width="3" height="3"/><rect x="224" y="719" width="3" height="1"/><rect x="228" y="719" width="3" height="1"/><rect x="232" y="720" width="3" height="2"/><rect x="236" y="720" width="3" height="5"/><rect x="240" y="720" width="3" height="9"/><rect x="244" y="720" width="3" height="13"/><rect x="248" y="720" width="3" height="16"/><rect x="252" y="720" width="3" height="16"/><rect x="256" y="720" width="3" height="17"/><rect x="260" y="720" width="3" height="16"/><rect x="264" y="720" width="3" height="14"/><rect x="268" y="720" width="3" height="14"/><rect x="272" y="720" width="3" height="14"/><rect x="276" y="720" width="3" height="14"/><rect x="280" y="720" width="3" height="17"/><rect x="284" y="720" width="3" height="22"/><rect x="288" y="720" width="3" height="27"/><rect x="292" y="720" width="3" height="31"/><rect x="296" y="720" width="3" height="33"/><rect x="300" y="720" width="3" height="37"/><rect x="304" y="720" width="3" height="39"/><rect x="308" y="720" width="3" height="41"/><rect x="312" y="720" width="3" height="43"/><rect x="316" y="720" width="3" height="44"/><rect x="320" y="720" width="3" height="44"/><rect x="324" y="720" width="3" height="44"/><rect x="328" y="720" width="3" height="44"/><rect x="332" y="720" width="3" height="43"/><rect x="336" y="720" width="3" height="40"/><rect x="340" y="720" width="3" height="33"/><rect x="344" y="720" width="3" height="28"/><rect x="348" y="720" width="3" height="24"/><rect x="352" y="720" width="3" height="20"/><rect x="356" y="720" width="3" height="16"/><rect x="360" y="720" width="3" height="12"/><rect x="364" y="720" width="3" height="10"/><rect x="368" y="720" width="3" height="8"/><rect x="372" y="720" width="3" height="6"/><rect x="376" y="720" width="3" height="5"/><rect x="380" y="720" width="3" height="4"/><rect x="384" y="720" width="3" height="2"/><rect x="388" y="720" width="3" height="2"/><rect x="392" y="720" width="3" height="1"/><rect x="396" y="720" width="3" height="1"/><rect x="400" y="720" width="3" height="2"/><rect x="404" y="720" width="3" height="5"/><rect x="408" y="720" width="3" height="8"/><rect x="412" y="720" width="3" height="13"/><rect x="416" y="720" width="3" height="13"/><rect x="420" y="720" width="3" height="13"/><rect x="424" y="720" width="3" height="12"/><rect x="428" y="720" width="3" height="13"/><rect x="432" y="720" width="3" height="14"/><rect x="436" y="720" width="3" height="14"/><rect x="440" y="720" width="3" height="14"/><rect x="444" y="720" width="3" height="10"/><rect x="448" y="720" width="3" height="6"/><rect x="452" y="720" width="3" height="2"/><rect x="456" y="716" width="3" height="4"/><rect x="460" y="713" width="3" height="7"/><rect x="464" y="711" width="3" height="9"/><rect x="468" y="709" width="3" height="11"/><rect x="472" y="707" width="3" height="13"/><rect x="476" y="707" width="3" height="13"/><rect x="480" y="707" width="3" height="13"/><rect x="484" y="708" width="3" height="12"/><rect x="488" y="710" width="3" height="10"/><rect x="492" y="710" width="3" height="10"/><rect x="496" y="710" width="3" height="10"/><rect x="500" y="712" width="3" height="8"/><rect x="504" y="710" width="3" height="10"/><rect x="508" y="710" width="3" height="10"/><rect x="512" y="707" width="3" height="13"/><rect x="516" y="706" width="3" height="14"/><rect x="520" y="706" width="3" height="14"/><rect x="524" y="706" width="3" height="14"/><rect x="528" y="706" width="3" height="14"/><rect x="532" y="707" width="3" height="13"/><rect x="536" y="708" width="3" height="12"/><rect x="540" y="712" width="3" height="8"/><rect x="544" y="714" width="3" height="6"/><rect x="548" y="713" width="3" height="7"/><rect x="552" y="711" width="3" height="9"/><rect x="556" y="710" width="3" height="10"/><rect x="560" y="708" width="3" height="12"/><rect x="564" y="706" width="3" height="14"/><rect x="568" y="705" width="3" height="15"/><rect x="572" y="707" width="3" height="13"/><rect x="576" y="708" width="3" height="12"/><rect x="580" y="711" width="3" height="9"/><rect x="584" y="714" width="3" height="6"/><rect x="588" y="714" width="3" height="6"/><rect x="592" y="716" width="3" height="4"/><rect x="596" y="720" width="3" height="1"/><rect x="600" y="720" width="3" height="3"/><rect x="604" y="720" width="3" height="6"/><rect x="608" y="720" width="3" height="8"/><rect x="612" y="720" width="3" height="9"/><rect x="616" y="720" width="3" height="11"/><rect x="620" y="720" width="3" height="15"/><rect x="624" y="720" width="3" height="18"/><rect x="628" y="720" width="3" height="20"/><rect x="632" y="720" width="3" height="22"/><rect x="636" y="720" width="3" height="23"/><rect x="640" y="720" width="3" height="23"/><rect x="644" y="720" width="3" height="22"/><rect x="648" y="720" width="3" height="19"/><rect x="652" y="720" width="3" height="17"/><rect x="656" y="720" width="3" height="15"/><rect x="660" y="720" width="3" height="14"/><rect x="664" y="720" width="3" height="16"/><rect x="668" y="720" width="3" height="17"/><rect x="672" y="720" width="3" height="17"/><rect x="676" y="720" width="3" height="16"/><rect x="680" y="720" width="3" height="15"/><rect x="684" y="720" width="3" height="14"/><rect x="688" y="720" width="3" height="12"/><rect x="692" y="720" width="3" height="11"/><rect x="696" y="720" width="3" height="10"/><rect x="700" y="720" width="3" height="9"/><rect x="704" y="720" width="3" height="9"/><rect x="708" y="720" width="3" height="9"/><rect x="712" y="720" width="3" height="9"/><rect x="716" y="720" width="3" height="12"/><rect x="720" y="720" width="3" height="13"/><rect x="724" y="720" width="3" height="14"/><rect x="728" y="720" width="3" height="15"/><rect x="732" y="720" width="3" height="15"/><rect x="736" y="720" width="3" height="15"/><rect x="740" y="720" width="3" height="16"/><rect x="744" y="720" width="3" height="18"/><rect x="748" y="720" width="3" height="19"/><rect x="752" y="720" width="3" height="21"/><rect x="756" y="720" width="3" height="21"/><rect x="760" y="720" width="3" height="17"/><rect x="764" y="720" width="3" height="17"/><rect x="768" y="720" width="3" height="19"/><rect x="772" y="720" width="3" height="18"/><rect x="776" y="720" width="3" height="18"/><rect x="780" y="720" width="3" height="18"/><rect x="784" y="720" width="3" height="17"/><rect x="788" y="720" width="3" height="16"/><rect x="792" y="720" width="3" height="14"/><rect x="796" y="720" width="3" height="11"/><rect x="800" y="720" width="3" height="9"/><rect x="804" y="720" width="3" height="7"/><rect x="808" y="720" width="3" height="5"/><rect x="812" y="720" width="3" height="7"/><rect x="816" y="720" width="3" height="9"/><rect x="820" y="720" width="3" height="9"/><rect x="824" y="720" width="3" height="11"/><rect x="828" y="720" width="3" height="10"/><rect x="832" y="720" width="3" height="10"/><rect x="836" y="720" width="3" height="8"/><rect x="840" y="720" width="3" height="8"/><rect x="844" y="720" width="3" height="10"/><rect x="848" y="720" width="3" height="11"/><rect x="852" y="720" width="3" height="14"/><rect x="856" y="720" width="3" height="16"/><rect x="860" y="720" width="3" height="19"/><rect x="864" y="720" width="3" height="23"/><rect x="868" y="720" width="3" height="26"/><rect x="872" y="720" width="3" height="28"/><rect x="876" y="720" width="3" height="29"/><rect x="880" y="720" width="3" height="30"/><rect x="884" y="720" width="3" height="33"/><rect x="888" y="720" width="3" height="35"/><rect x="892" y="720" width="3" height="35"/><rect x="896" y="720" width="3" height="36"/><rect x="900" y="720" width="3" height="35"/><rect x="904" y="720" width="3" height="32"/><rect x="908" y="720" width="3" height="32"/><rect x="912" y="720" width="3" height="32"/><rect x="916" y="720" width="3" height="31"/><rect x="920" y="720" width="3" height="29"/><rect x="924" y="720" width="3" height="27"/><rect x="928" y="720" width="3" height="24"/><rect x="932" y="720" width="3" height="21"/><rect x="936" y="720" width="3" height="18"/><rect x="940" y="720" width="3" height="17"/><rect x="944" y="720" width="3" height="16"/><rect x="948" y="720" width="3" height="14"/><rect x="952" y="720" width="3" height="12"/><rect x="956" y="720" width="3" height="9"/><rect x="960" y="720" width="3" height="6"/><rect x="964" y="720" width="3" height="4"/><rect x="968" y="720" width="3" height="2"/><rect x="972" y="720" width="3" height="1"/><rect x="976" y="718" width="3" height="2"/><rect x="980" y="717" width="3" height="3"/><rect x="984" y="717" width="3" height="3"/><rect x="988" y="717" width="3" height="3"/><rect x="992" y="716" width="3" height="4"/><rect x="996" y="717" width="3" height="3"/><rect x="1000" y="719" width="3" height="1"/><rect x="1004" y="720" width="3" height="1"/><rect x="1008" y="720" width="3" height="3"/><rect x="1012" y="720" width="3" height="6"/><rect x="1016" y="720" width="3" height="8"/><rect x="1020" y="720" width="3" height="9"/><rect x="1024" y="720" width="3" height="10"/><rect x="1028" y="720" width="3" height="17"/><rect x="1032" y="720" width="3" height="21"/><rect x="1036" y="720" width="3" height="24"/><rect x="1040" y="720" width="3" height="26"/><rect x="1044" y="720" width="3" height="26"/><rect x="1048" y="720" width="3" height="25"/><rect x="1052" y="720" width="3" height="21"/><rect x="1056" y="720" width="3" height="18"/><rect x="1060" y="720" width="3" height="15"/><rect x="1064" y="720" width="3" height="11"/><rect x="1068" y="720" width="3" height="9"/><rect x="1072" y="720" width="3" height="4"/><rect x="1076" y="720" width="3" height="1"/><rect x="1080" y="717" width="3" height="3"/><rect x="1084" y="715" width="3" height="5"/><rect x="1088" y="715" width="3" height="5"/><rect x="1092" y="715" width="3" height="5"/><rect x="1096" y="715" width="3" height="5"/><rect x="1100" y="714" width="3" height="6"/><rect x="1104" y="713" width="3" height="7"/><rect x="1108" y="713" width="3" height="7"/><rect x="1112" y="713" width="3" height="7"/><rect x="1116" y="713" width="3" height="7"/><rect x="1120" y="718" width="3" height="2"/><rect x="1124" y="720" width="3" height="1"/><rect x="1128" y="720" width="3" height="1"/><rect x="1132" y="720" width="3" height="2"/><rect x="1136" y="720" width="3" height="2"/><rect x="1140" y="720" width="3" height="3"/><rect x="1144" y="720" width="3" height="4"/><rect x="1148" y="720" width="3" height="4"/><rect x="1152" y="720" width="3" height="3"/><rect x="1156" y="720" width="3" height="2"/><rect x="1160" y="720" width="3" height="2"/><rect x="1164" y="720" width="3" height="2"/><rect x="1168" y="720" width="3" height="2"/><rect x="1172" y="720" width="3" height="2"/><rect x="1176" y="720" width="3" height="5"/><rect x="1180" y="720" width="3" height="7"/><rect x="1184" y="720" width="3" height="8"/><rect x="1188" y="720" width="3" height="10"/><rect x="1192" y="720" width="3" height="11"/><rect x="1196" y="720" width="3" height="11"/><rect x="1200" y="720" width="3" height="11"/><rect x="1204" y="720" width="3" height="10"/><rect x="1208" y="720" width="3" height="11"/><rect x="1212" y="720" width="3" height="9"/><rect x="1216" y="720" width="3" height="8"/><rect x="1220" y="720" width="3" height="5"/><rect x="1224" y="720" width="3" height="3"/><rect x="1228" y="720" width="3" height="2"/><rect x="1232" y="720" width="3" height="1"/><rect x="1236" y="717" width="3" height="3"/><rect x="1240" y="716" width="3" height="4"/><rect x="1244" y="714" width="3" height="6"/><rect x="1248" y="712" width="3" height="8"/><rect x="1252" y="712" width="3" height="8"/><rect x="1256" y="710" width="3" height="10"/><rect x="1260" y="708" width="3" height="12"/><rect x="1264" y="706" width="3" height="14"/></g><polyline points="0,702.4 1.5,702.4 5.5,702.4 9.5,702.4 13.5,702.4 17.5,702.4 21.5,702.4 25.5,702.4 29.5,703.0 33.5,704.3 37.5,706.3 41.5,708.2 45.5,710.1 49.5,712.3 53.5,714.7 57.5,717.0 61.5,719.2 65.5,721.0 69.5,722.4 73.5,723.5 77.5,724.1 81.5,724.7 85.5,724.8 89.5,724.6 93.5,724.2 97.5,723.5 101.5,722.9 105.5,722.2 109.5,721.5 113.5,721.1 117.5,720.7 121.5,720.6 125.5,720.7 129.5,721.0 133.5,721.6 137.5,722.1 141.5,722.7 145.5,722.9 149.5,722.9 153.5,722.7 157.5,722.1 161.5,721.1 165.5,719.4 169.5,717.3 173.5,714.6 177.5,711.9 181.5,709.2 185.5,706.8 189.5,704.9 193.5,703.5 197.5,702.7 201.5,702.5 205.5,702.9 209.5,703.8 213.5,705.2 217.5,707.1 221.5,709.1 225.5,711.1 229.5,712.9 233.5,714.6 237.5,716.5 241.5,718.6 245.5,721.2 249.5,723.8 253.5,726.1 257.5,728.3 261.5,730.2 265.5,731.8 269.5,733.3 273.5,734.3 277.5,734.8 281.5,735.3 285.5,736.0 289.5,737.2 293.5,738.7 297.5,740.6 301.5,743.1 305.5,745.8 309.5,748.8 313.5,752.0 317.5,755.0 321.5,757.5 325.5,759.4 329.5,760.8 333.5,762.0 337.5,762.4 341.5,761.7 345.5,760.3 349.5,758.2 353.5,755.5 357.5,752.4 361.5,748.8 365.5,745.0 369.5,741.2 373.5,737.3 377.5,734.2 381.5,731.5 385.5,729.1 389.5,727.1 393.5,725.3 397.5,724.1 401.5,723.2 405.5,722.9 409.5,723.1 413.5,724.0 417.5,725.1 421.5,726.2 425.5,727.4 429.5,728.7 433.5,730.2 437.5,731.6 441.5,732.5 445.5,732.7 449.5,731.9 453.5,730.7 457.5,728.8 461.5,726.7 465.5,724.2 469.5,721.4 473.5,718.4 477.5,715.5 481.5,713.0 485.5,711.0 489.5,709.6 493.5,708.9 497.5,708.6 501.5,708.7 505.5,708.8 509.5,709.1 513.5,709.1 517.5,709.0 521.5,708.8 525.5,708.5 529.5,708.1 533.5,707.8 537.5,707.3 541.5,707.5 545.5,708.0 549.5,708.7 553.5,709.2 557.5,709.6 561.5,709.8 565.5,709.8 569.5,709.6 573.5,709.5 577.5,709.0 581.5,708.7 585.5,708.8 589.5,709.2 593.5,709.8 597.5,711.2 601.5,713.1 605.5,715.4 609.5,717.7 613.5,720.0 617.5,722.3 621.5,724.6 625.5,727.2 629.5,729.9 633.5,732.3 637.5,734.5 641.5,736.4 645.5,738.0 649.5,739.1 653.5,739.7 657.5,739.7 661.5,739.3 665.5,738.9 669.5,738.3 673.5,737.7 677.5,736.9 681.5,736.2 685.5,735.6 689.5,735.1 693.5,734.6 697.5,734.1 701.5,733.3 705.5,732.5 709.5,731.6 713.5,730.8 717.5,730.5 721.5,730.3 725.5,730.5 729.5,731.0 733.5,731.5 737.5,732.2 741.5,732.9 745.5,733.9 749.5,735.0 753.5,736.0 757.5,736.8 761.5,737.3 765.5,737.5 769.5,738.0 773.5,738.4 777.5,738.6 781.5,738.7 785.5,738.5 789.5,737.9 793.5,737.2 797.5,736.5 801.5,735.5 805.5,734.2 809.5,732.7 813.5,731.5 817.5,730.5 821.5,729.5 825.5,729.0 829.5,728.5 833.5,728.4 837.5,728.3 841.5,728.4 845.5,728.9 849.5,729.4 853.5,729.9 857.5,730.7 861.5,731.6 865.5,733.0 869.5,734.8 873.5,737.1 877.5,739.4 881.5,741.7 885.5,744.2 889.5,746.5 893.5,748.6 897.5,750.5 901.5,751.8 905.5,752.5 909.5,753.0 913.5,753.3 917.5,753.4 921.5,753.0 925.5,752.1 929.5,750.9 933.5,749.2 937.5,747.3 941.5,745.7 945.5,743.9 949.5,741.9 953.5,739.7 957.5,737.5 961.5,735.2 965.5,733.0 969.5,730.9 973.5,728.9 977.5,726.8 981.5,724.7 985.5,722.8 989.5,721.2 993.5,719.8 997.5,718.8 1001.5,718.3 1005.5,718.2 1009.5,718.5 1013.5,719.3 1017.5,720.5 1021.5,721.8 1025.5,723.2 1029.5,725.5 1033.5,728.1 1037.5,730.8 1041.5,733.6 1045.5,736.1 1049.5,738.2 1053.5,739.6 1057.5,740.6 1061.5,741.2 1065.5,740.5 1069.5,739.2 1073.5,737.0 1077.5,734.2 1081.5,731.1 1085.5,727.8 1089.5,725.0 1093.5,722.5 1097.5,720.3 1101.5,718.4 1105.5,716.7 1109.5,715.5 1113.5,714.7 1117.5,714.2 1121.5,714.5 1125.5,715.1 1129.5,715.7 1133.5,716.4 1137.5,717.3 1141.5,718.4 1145.5,719.6 1149.5,720.8 1153.5,721.8 1157.5,722.2 1161.5,722.4 1165.5,722.6 1169.5,722.6 1173.5,722.6 1177.5,722.8 1181.5,723.1 1185.5,723.5 1189.5,724.3 1193.5,725.3 1197.5,726.3 1201.5,727.2 1205.5,728.1 1209.5,729.1 1213.5,729.6 1217.5,729.7 1221.5,729.3 1225.5,728.6 1229.5,727.6 1233.5,726.5 1237.5,725.0 1241.5,723.4 1245.5,721.5 1249.5,719.6 1253.5,717.9 1257.5,716.2 1261.5,714.5 1265.5,712.8" fill="none" stroke="#ff0000" stroke-width="1" shape-rendering="crispEdges"/><g fill="#c8c8c8" shape-rendering="crispEdges"><rect x="0" y="786" width="3" height="1"/><rect x="0" y="808" width="3" height="1"/><rect x="6" y="786" width="3" height="1"/><rect x="6" y="808" width="3" height="1"/><rect x="12" y="786" width="3" height="1"/><rect x="12" y="808" width="3" height="1"/><rect x="18" y="786" width="3" height="1"/><rect x="18" y="808" width="3" height="1"/><rect x="24" y="786" width="3" height="1"/><rect x="24" y="808" width="3" height="1"/><rect x="30" y="786" width="3" height="1"/><rect x="30" y="808" width="3" height="1"/><rect x="36" y="786" width="3" height="1"/><rect x="36" y="808" width="3" height="1"/><rect x="42" y="786" width="3" height="1"/><rect x="42" y="808" width="3" height="1"/><rect x="48" y="786" width="3" height="1"/><rect x="48" y="808" width="3" height="1"/><rect x="54" y="786" width="3" height="1"/><rect x="54" y="808" width="3" height="1"/><rect x="60" y="786" width="3" height="1"/><rect x="60" y="808" width="3" height="1"/><rect x="66" y="786" width="3" height="1"/><rect x="66" y="808" width="3" height="1"/><rect x="72" y="786" width="3" height="1"/><rect x="72" y="808" width="3" height="1"/><rect x="78" y="786" width="3" height="1"/><rect x="78" y="808" width="3" height="1"/><rect x="84" y="786" width="3" height="1"/><rect x="84" y="808" width="3" height="1"/><rect x="90" y="786" width="3" height="1"/><rect x="90" y="808" width="3" height="1"/><rect x="96" y="786" width="3" height="1"/><rect x="96" y="808" width="3" height="1"/><rect x="102" y="786" width="3" height="1"/><rect x="102" y="808" width="3" height="1"/><rect x="108" y="786" width="3" height="1"/><rect x="108" y="808" width="3" height="1"/><rect x="114" y="786" width="3" height="1"/><rect x="114" y="808" width="3" height="1"/><rect x="120" y="786" width="3" height="1"/><rect x="120" y="808" width="3" height="1"/><rect x="126" y="786" width="3" height="1"/><rect x="126" y="808" width="3" height="1"/><rect x="132" y="786" width="3" height="1"/><rect x="132" y="808" width="3" height="1"/><rect x="138" y="786" width="3" height="1"/><rect x="138" y="808" width="3" height="1"/><rect x="144" y="786" width="3" height="1"/><rect x="144" y="808" width="3" height="1"/><rect x="150" y="786" width="3" height="1"/><rect x="150" y="808" width="3" height="1"/><rect x="156" y="786" width="3" height="1"/><rect x="156" y="808" width="3" height="1"/><rect x="162" y="786" width="3" height="1"/><rect x="162" y="808" width="3" height="1"/><rect x="168" y="786" width="3" height="1"/><rect x="168" y="808" width="3" height="1"/><rect x="174" y="786" width="3" height="1"/><rect x="174" y="808" width="3" height="1"/><rect x="180" y="786" width="3" height="1"/><rect x="180" y="808" width="3" height="1"/><rect x="186" y="786" width="3" height="1"/><rect x="186" y="808" width="3" height="1"/><rect x="192" y="786" width="3" height="1"/><rect x="192" y="808" width="3" height="1"/><rect x="198" y="786" width="3" height="1"/><rect x="198" y="808" width="3" height="1"/><rect x="204" y="786" width="3" height="1"/><rect x="204" y="808" width="3" height="1"/><rect x="210" y="786" width="3" height="1"/><rect x="210" y="808" width="3" height="1"/><rect x="216" y="786" width="3" height="1"/><rect x="216" y="808" width="3" height="1"/><rect x="222" y="786" width="3" height="1"/><rect x="222" y="808" width="3" height="1"/><rect x="228" y="786" width="3" height="1"/><rect x="228" y="808" width="3" height="1"/><rect x="234" y="786" width="3" height="1"/><rect x="234" y="808" width="3" height="1"/><rect x="240" y="786" width="3" height="1"/><rect x="240" y="808" width="3" height="1"/><rect x="246" y="786" width="3" height="1"/><rect x="246" y="808" width="3" height="1"/><rect x="252" y="786" width="3" height="1"/><rect x="252" y="808" width="3" height="1"/><rect x="258" y="786" width="3" height="1"/><rect x="258" y="808" width="3" height="1"/><rect x="264" y="786" width="3" height="1"/><rect x="264" y="808" width="3" height="1"/><rect x="270" y="786" width="3" height="1"/><rect x="270" y="808" width="3" height="1"/><rect x="276" y="786" width="3" height="1"/><rect x="276" y="808" width="3" height="1"/><rect x="282" y="786" width="3" height="1"/><rect x="282" y="808" width="3" height="1"/><rect x="288" y="786" width="3" height="1"/><rect x="288" y="808" width="3" height="1"/><rect x="294" y="786" width="3" height="1"/><rect x="294" y="808" width="3" height="1"/><rect x="300" y="786" width="3" height="1"/><rect x="300" y="808" width="3" height="1"/><rect x="306" y="786" width="3" height="1"/><rect x="306" y="808" width="3" height="1"/><rect x="312" y="786" width="3" height="1"/><rect x="312" y="808" width="3" height="1"/><rect x="318" y="786" width="3" height="1"/><rect x="318" y="808" width="3" height="1"/><rect x="324" y="786" width="3" height="1"/><rect x="324" y="808" width="3" height="1"/><rect x="330" y="786" width="3" height="1"/><rect x="330" y="808" width="3" height="1"/><rect x="336" y="786" width="3" height="1"/><rect x="336" y="808" width="3" height="1"/><rect x="342" y="786" width="3" height="1"/><rect x="342" y="808" width="3" height="1"/><rect x="348" y="786" width="3" height="1"/><rect x="348" y="808" width="3" height="1"/><rect x="354" y="786" width="3" height="1"/><rect x="354" y="808" width="3" height="1"/><rect x="360" y="786" width="3" height="1"/><rect x="360" y="808" width="3" height="1"/><rect x="366" y="786" width="3" height="1"/><rect x="366" y="808" width="3" height="1"/><rect x="372" y="786" width="3" height="1"/><rect x="372" y="808" width="3" height="1"/><rect x="378" y="786" width="3" height="1"/><rect x="378" y="808" width="3" height="1"/><rect x="384" y="786" width="3" height="1"/><rect x="384" y="808" width="3" height="1"/><rect x="390" y="786" width="3" height="1"/><rect x="390" y="808" width="3" height="1"/><rect x="396" y="786" width="3" height="1"/><rect x="396" y="808" width="3" height="1"/><rect x="402" y="786" width="3" height="1"/><rect x="402" y="808" width="3" height="1"/><rect x="408" y="786" width="3" height="1"/><rect x="408" y="808" width="3" height="1"/><rect x="414" y="786" width="3" height="1"/><rect x="414" y="808" width="3" height="1"/><rect x="420" y="786" width="3" height="1"/><rect x="420" y="808" width="3" height="1"/><rect x="426" y="786" width="3" height="1"/><rect x="426" y="808" width="3" height="1"/><rect x="432" y="786" width="3" height="1"/><rect x="432" y="808" width="3" height="1"/><rect x="438" y="786" width="3" height="1"/><rect x="438" y="808" width="3" height="1"/><rect x="444" y="786" width="3" height="1"/><rect x="444" y="808" width="3" height="1"/><rect x="450" y="786" width="3" height="1"/><rect x="450" y="808" width="3" height="1"/><rect x="456" y="786" width="3" height="1"/><rect x="456" y="808" width="3" height="1"/><rect x="462" y="786" width="3" height="1"/><rect x="462" y="808" width="3" height="1"/><rect x="468" y="786" width="3" height="1"/><rect x="468" y="808" width="3" height="1"/><rect x="474" y="786" width="3" height="1"/><rect x="474" y="808" width="3" height="1"/><rect x="480" y="786" width="3" height="1"/><rect x="480" y="808" width="3" height="1"/><rect x="486" y="786" width="3" height="1"/><rect x="486" y="808" width="3" height="1"/><rect x="492" y="786" width="3" height="1"/><rect x="492" y="808" width="3" height="1"/><rect x="498" y="786" width="3" height="1"/><rect x="498" y="808" width="3" height="1"/><rect x="504" y="786" width="3" height="1"/><rect x="504" y="808" width="3" height="1"/><rect x="510" y="786" width="3" height="1"/><rect x="510" y="808" width="3" height="1"/><rect x="516" y="786" width="3" height="1"/><rect x="516" y="808" width="3" height="1"/><rect x="522" y="786" width="3" height="1"/><rect x="522" y="808" width="3" height="1"/><rect x="528" y="786" width="3" height="1"/><rect x="528" y="808" width="3" height="1"/><rect x="534" y="786" width="3" height="1"/><rect x="534" y="808" width="3" height="1"/><rect x="540" y="786" width="3" height="1"/><rect x="540" y="808" width="3" height="1"/><rect x="546" y="786" width="3" height="1"/><rect x="546" y="808" width="3" height="1"/><rect x="552" y="786" width="3" height="1"/><rect x="552" y="808" width="3" height="1"/><rect x="558" y="786" width="3" height="1"/><rect x="558" y="808" width="3" height="1"/><rect x="564" y="786" width="3" height="1"/><rect x="564" y="808" width="3" height="1"/><rect x="570" y="786" width="3" height="1"/><rect x="570" y="808" width="3" height="1"/><rect x="576" y="786" width="3" height="1"/><rect x="576" y="808" width="3" height="1"/><rect x="582" y="786" width="3" height="1"/><rect x="582" y="808" width="3" height="1"/><rect x="588" y="786" width="3" height="1"/><rect x="588" y="808" width="3" height="1"/><rect x="594" y="786" width="3" height="1"/><rect x="594" y="808" width="3" height="1"/><rect x="600" y="786" width="3" height="1"/><rect x="600" y="808" width="3" height="1"/><rect x="606" y="786" width="3" height="1"/><rect x="606" y="808" width="3" height="1"/><rect x="612" y="786" width="3" height="1"/><rect x="612" y="808" width="3" height="1"/><rect x="618" y="786" width="3" height="1"/><rect x="618" y="808" width="3" height="1"/><rect x="624" y="786" width="3" height="1"/><rect x="624" y="808" width="3" height="1"/><rect x="630" y="786" width="3" height="1"/><rect x="630" y="808" width="3" height="1"/><rect x="636" y="786" width="3" height="1"/><rect x="636" y="808" width="3" height="1"/><rect x="642" y="786" width="3" height="1"/><rect x="642" y="808" width="3" height="1"/><rect x="648" y="786" width="3" height="1"/><rect x="648" y="808" width="3" height="1"/><rect x="654" y="786" width="3" height="1"/><rect x="654" y="808" width="3" height="1"/><rect x="660" y="786" width="3" height="1"/><rect x="660" y="808" width="3" height="1"/><rect x="666" y="786" width="3" height="1"/><rect x="666" y="808" width="3" height="1"/><rect x="672" y="786" width="3" height="1"/><rect x="672" y="808" width="3" height="1"/><rect x="678" y="786" width="3" height="1"/><rect x="678" y="808" width="3" height="1"/><rect x="684" y="786" width="3" height="1"/><rect x="684" y="808" width="3" height="1"/><rect x="690" y="786" width="3" height="1"/><rect x="690" y="808" width="3" height="1"/><rect x="696" y="786" width="3" height="1"/><rect x="696" y="808" width="3" height="1"/><rect x="702" y="786" width="3" height="1"/><rect x="702" y="808" width="3" height="1"/><rect x="708" y="786" width="3" height="1"/><rect x="708" y="808" width="3" height="1"/><rect x="714" y="786" width="3" height="1"/><rect x="714" y="808" width="3" height="1"/><rect x="720" y="786" width="3" height="1"/><rect x="720" y="808" width="3" height="1"/><rect x="726" y="786" width="3" height="1"/><rect x="726" y="808" width="3" height="1"/><rect x="732" y="786" width="3" height="1"/><rect x="732" y="808" width="3" height="1"/><rect x="738" y="786" width="3" height="1"/><rect x="738" y="808" width="3" height="1"/><rect x="744" y="786" width="3" height="1"/><rect x="744" y="808" width="3" height="1"/><rect x="750" y="786" width="3" height="1"/><rect x="750" y="808" width="3" height="1"/><rect x="756" y="786" width="3" height="1"/><rect x="756" y="808" width="3" height="1"/><rect x="762" y="786" width="3" height="1"/><rect x="762" y="808" width="3" height="1"/><rect x="768" y="786" width="3" height="1"/><rect x="768" y="808" width="3" height="1"/><rect x="774" y="786" width="3" height="1"/><rect x="774" y="808" width="3" height="1"/><rect x="780" y="786" width="3" height="1"/><rect x="780" y="808" width="3" height="1"/><rect x="786" y="786" width="3" height="1"/><rect x="786" y="808" width="3" height="1"/><rect x="792" y="786" width="3" height="1"/><rect x="792" y="808" width="3" height="1"/><rect x="798" y="786" width="3" height="1"/><rect x="798" y="808" width="3" height="1"/><rect x="804" y="786" width="3" height="1"/><rect x="804" y="808" width="3" height="1"/><rect x="810" y="786" width="3" height="1"/><rect x="810" y="808" width="3" height="1"/><rect x="816" y="786" width="3" height="1"/><rect x="816" y="808" width="3" height="1"/><rect x="822" y="786" width="3" height="1"/><rect x="822" y="808" width="3" height="1"/><rect x="828" y="786" width="3" height="1"/><rect x="828" y="808" width="3" height="1"/><rect x="834" y="786" width="3" height="1"/><rect x="834" y="808" width="3" height="1"/><rect x="840" y="786" width="3" height="1"/><rect x="840" y="808" width="3" height="1"/><rect x="846" y="786" width="3" height="1"/><rect x="846" y="808" width="3" height="1"/><rect x="852" y="786" width="3" height="1"/><rect x="852" y="808" width="3" height="1"/><rect x="858" y="786" width="3" height="1"/><rect x="858" y="808" width="3" height="1"/><rect x="864" y="786" width="3" height="1"/><rect x="864" y="808" width="3" height="1"/><rect x="870" y="786" width="3" height="1"/><rect x="870" y="808" width="3" height="1"/><rect x="876" y="786" width="3" height="1"/><rect x="876" y="808" width="3" height="1"/><rect x="882" y="786" width="3" height="1"/><rect x="882" y="808" width="3" height="1"/><rect x="888" y="786" width="3" height="1"/><rect x="888" y="808" width="3" height="1"/><rect x="894" y="786" width="3" height="1"/><rect x="894" y="808" width="3" height="1"/><rect x="900" y="786" width="3" height="1"/><rect x="900" y="808" width="3" height="1"/><rect x="906" y="786" width="3" height="1"/><rect x="906" y="808" width="3" height="1"/><rect x="912" y="786" width="3" height="1"/><rect x="912" y="808" width="3" height="1"/><rect x="918" y="786" width="3" height="1"/><rect x="918" y="808" width="3" height="1"/><rect x="924" y="786" width="3" height="1"/><rect x="924" y="808" width="3" height="1"/><rect x="930" y="786" width="3" height="1"/><rect x="930" y="808" width="3" height="1"/><rect x="936" y="786" width="3" height="1"/><rect x="936" y="808" width="3" height="1"/><rect x="942" y="786" width="3" height="1"/><rect x="942" y="808" width="3" height="1"/><rect x="948" y="786" width="3" height="1"/><rect x="948" y="808" width="3" height="1"/><rect x="954" y="786" width="3" height="1"/><rect x="954" y="808" width="3" height="1"/><rect x="960" y="786" width="3" height="1"/><rect x="960" y="808" width="3" height="1"/><rect x="966" y="786" width="3" height="1"/><rect x="966" y="808" width="3" height="1"/><rect x="972" y="786" width="3" height="1"/><rect x="972" y="808" width="3" height="1"/><rect x="978" y="786" width="3" height="1"/><rect x="978" y="808" width="3" height="1"/><rect x="984" y="786" width="3" height="1"/><rect x="984" y="808" width="3" height="1"/><rect x="990" y="786" width="3" height="1"/><rect x="990" y="808" width="3" height="1"/><rect x="996" y="786" width="3" height="1"/><rect x="996" y="808" width="3" height="1"/><rect x="1002" y="786" width="3" height="1"/><rect x="1002" y="808" width="3" height="1"/><rect x="1008" y="786" width="3" height="1"/><rect x="1008" y="808" width="3" height="1"/><rect x="1014" y="786" width="3" height="1"/><rect x="1014" y="808" width="3" height="1"/><rect x="1020" y="786" width="3" height="1"/><rect x="1020" y="808" width="3" height="1"/><rect x="1026" y="786" width="3" height="1"/><rect x="1026" y="808" width="3" height="1"/><rect x="1032" y="786" width="3" height="1"/><rect x="1032" y="808" width="3" height="1"/><rect x="1038" y="786" width="3" height="1"/><rect x="1038" y="808" width="3" height="1"/><rect x="1044" y="786" width="3" height="1"/><rect x="1044" y="808" width="3" height="1"/><rect x="1050" y="786" width="3" height="1"/><rect x="1050" y="808" width="3" height="1"/><rect x="1056" y="786" width="3" height="1"/><rect x="1056" y="808" width="3" height="1"/><rect x="1062" y="786" width="3" height="1"/><rect x="1062" y="808" width="3" height="1"/><rect x="1068" y="786" width="3" height="1"/><rect x="1068" y="808" width="3" height="1"/><rect x="1074" y="786" width="3" height="1"/><rect x="1074" y="808" width="3" height="1"/><rect x="1080" y="786" width="3" height="1"/><rect x="1080" y="808" width="3" height="1"/><rect x="1086" y="786" width="3" height="1"/><rect x="1086" y="808" width="3" height="1"/><rect x="1092" y="786" width="3" height="1"/><rect x="1092" y="808" width="3" height="1"/><rect x="1098" y="786" width="3" height="1"/><rect x="1098" y="808" width="3" height="1"/><rect x="1104" y="786" width="3" height="1"/><rect x="1104" y="808" width="3" height="1"/><rect x="1110" y="786" width="3" height="1"/><rect x="1110" y="808" width="3" height="1"/><rect x="1116" y="786" width="3" height="1"/><rect x="1116" y="808" width="3" height="1"/><rect x="1122" y="786" width="3" height="1"/><rect x="1122" y="808" width="3" height="1"/><rect x="1128" y="786" width="3" height="1"/><rect x="1128" y="808" width="3" height="1"/><rect x="1134" y="786" width="3" height="1"/><rect x="1134" y="808" width="3" height="1"/><rect x="1140" y="786" width="3" height="1"/><rect x="1140" y="808" width="3" height="1"/><rect x="1146" y="786" width="3" height="1"/><rect x="1146" y="808" width="3" height="1"/><rect x="1152" y="786" width="3" height="1"/><rect x="1152" y="808" width="3" height="1"/><rect x="1158" y="786" width="3" height="1"/><rect x="1158" y="808" width="3" height="1"/><rect x="1164" y="786" width="3" height="1"/><rect x="1164" y="808" width="3" height="1"/><rect x="1170" y="786" width="3" height="1"/><rect x="1170" y="808" width="3" height="1"/><rect x="1176" y="786" width="3" height="1"/><rect x="1176" y="808" width="3" height="1"/><rect x="1182" y="786" width="3" height="1"/><rect x="1182" y="808" width="3" height="1"/><rect x="1188" y="786" width="3" height="1"/><rect x="1188" y="808" width="3" height="1"/><rect x="1194" y="786" width="3" height="1"/><rect x="1194" y="808" width="3" height="1"/><rect x="1200" y="786" width="3" height="1"/><rect x="1200" y="808" width="3" height="1"/><rect x="1206" y="786" width="3" height="1"/><rect x="1206" y="808" width="3" height="1"/><rect x="1212" y="786" width="3" height="1"/><rect x="1212" y="808" width="3" height="1"/><rect x="1218" y="786" width="3" height="1"/><rect x="1218" y="808" width="3" height="1"/><rect x="1224" y="786" width="3" height="1"/><rect x="1224" y="808" width="3" height="1"/><rect x="1230" y="786" width="3" height="1"/><rect x="1230" y="808" width="3" height="1"/><rect x="1236" y="786" width="3" height="1"/><rect x="1236" y="808" width="3" height="1"/><rect x="1242" y="786" width="3" height="1"/><rect x="1242" y="808" width="3" height="1"/><rect x="1248" y="786" width="3" height="1"/><rect x="1248" y="808" width="3" height="1"/><rect x="1254" y="786" width="3" height="1"/><rect x="1254" y="808" width="3" height="1"/><rect x="1260" y="786" width="3" height="1"/><rect x="1260" y="808" width="3" height="1"/><rect x="1266" y="786" width="3" height="1"/><rect x="1266" y="808" width="3" height="1"/><rect x="1272" y="786" width="3" height="1"/><rect x="1272" y="808" width="3" height="1"/><rect x="1278" y="786" width="3" height="1"/><rect x="1278" y="808" width="3" height="1"/><rect x="1284" y="786" width="3" height="1"/><rect x="1284" y="808" width="3" height="1"/><rect x="1290" y="786" width="3" height="1"/><rect x="1290" y="808" width="3" height="1"/><rect x="1296" y="786" width="3" height="1"/><rect x="1296" y="808" width="3" height="1"/><rect x="1302" y="786" width="3" height="1"/><rect x="1302" y="808" width="3" height="1"/><rect x="1308" y="786" width="3" height="1"/><rect x="1308" y="808" width="3" height="1"/><rect x="1314" y="786" width="3" height="1"/><rect x="1314" y="808" width="3" height="1"/><rect x="1320" y="786" width="3" height="1"/><rect x="1320" y="808" width="3" height="1"/><rect x="1326" y="786" width="3" height="1"/><rect x="1326" y="808" width="3" height="1"/><rect x="1332" y="786" width="3" height="1"/><rect x="1332" y="808" width="3" height="1"/><rect x="1338" y="786" width="3" height="1"/><rect x="1338" y="808" width="3" height="1"/><rect x="1344" y="786" width="3" height="1"/><rect x="1344" y="808" width="3" height="1"/><rect x="1350" y="786" width="3" height="1"/><rect x="1350" y="808" width="3" height="1"/><rect x="1356" y="786" width="3" height="1"/><rect x="1356" y="808" width="3" height="1"/><rect x="1362" y="786" width="3" height="1"/><rect x="1362" y="808" width="3" height="1"/><rect x="1368" y="786" width="3" height="1"/><rect x="1368" y="808" width="3" height="1"/><rect x="1374" y="786" width="3" height="1"/><rect x="1374" y="808" width="3" height="1"/><rect x="1380" y="786" width="3" height="1"/><rect x="1380" y="808" width="3" height="1"/><rect x="1386" y="786" width="3" height="1"/><rect x="1386" y="808" width="3" height="1"/><rect x="1392" y="786" width="3" height="1"/><rect x="1392" y="808" width="3" height="1"/><rect x="1398" y="786" width="3" height="1"/><rect x="1398" y="808" width="3" height="1"/><rect x="1404" y="786" width="3" height="1"/><rect x="1404" y="808" width="3" height="1"/><rect x="1410" y="786" width="3" height="1"/><rect x="1410" y="808" width="3" height="1"/><rect x="1416" y="786" width="3" height="1"/><rect x="1416" y="808" width="3" height="1"/><rect x="1422" y="786" width="3" height="1"/><rect x="1422" y="808" width="3" height="1"/><rect x="1428" y="786" width="3" height="1"/><rect x="1428" y="808" width="3" height="1"/><rect x="1434" y="786" width="3" height="1"/><rect x="1434" y="808" width="3" height="1"/><rect x="1440" y="786" width="3" height="1"/><rect x="1440" y="808" width="3" height="1"/><rect x="1446" y="786" width="3" height="1"/><rect x="1446" y="808" width="3" height="1"/><rect x="1452" y="786" width="3" height="1"/><rect x="1452" y="808" width="3" height="1"/><rect x="1458" y="786" width="3" height="1"/><rect x="1458" y="808" width="3" height="1"/><rect x="1464" y="786" width="3" height="1"/><rect x="1464" y="808" width="3" height="1"/><rect x="1470" y="786" width="3" height="1"/><rect x="1470" y="808" width="3" height="1"/><rect x="1476" y="786" width="3" height="1"/><rect x="1476" y="808" width="3" height="1"/><rect x="1482" y="786" width="3" height="1"/><rect x="1482" y="808" width="3" height="1"/><rect x="1488" y="786" width="3" height="1"/><rect x="1488" y="808" width="3" height="1"/><rect x="1494" y="786" width="3" height="1"/><rect x="1494" y="808" width="3" height="1"/><rect x="1500" y="786" width="3" height="1"/><rect x="1500" y="808" width="3" height="1"/><rect x="1506" y="786" width="3" height="1"/><rect x="1506" y="808" width="3" height="1"/><rect x="1512" y="786" width="3" height="1"/><rect x="1512" y="808" width="3" height="1"/><rect x="1518" y="786" width="3" height="1"/><rect x="1518" y="808" width="3" height="1"/><rect x="1524" y="786" width="3" height="1"/><rect x="1524" y="808" width="3" height="1"/><rect x="1530" y="786" width="3" height="1"/><rect x="1530" y="808" width="3" height="1"/><rect x="1536" y="786" width="3" height="1"/><rect x="1536" y="808" width="3" height="1"/><rect x="1542" y="786" width="3" height="1"/><rect x="1542" y="808" width="3" height="1"/><rect x="1548" y="786" width="3" height="1"/><rect x="1548" y="808" width="3" height="1"/><rect x="1554" y="786" width="3" height="1"/><rect x="1554" y="808" width="3" height="1"/><rect x="1560" y="786" width="3" height="1"/><rect x="1560" y="808" width="3" height="1"/><rect x="1566" y="786" width="3" height="1"/><rect x="1566" y="808" width="3" height="1"/><rect x="1572" y="786" width="3" height="1"/><rect x="1572" y="808" width="3" height="1"/><rect x="1578" y="786" width="3" height="1"/><rect x="1578" y="808" width="3" height="1"/><rect x="1584" y="786" width="3" height="1"/><rect x="1584" y="808" width="3" height="1"/><rect x="1590" y="786" width="3" height="1"/><rect x="1590" y="808" width="3" height="1"/><rect x="1596" y="786" width="3" height="1"/><rect x="1596" y="808" width="3" height="1"/><rect x="1602" y="786" width="3" height="1"/><rect x="1602" y="808" width="3" height="1"/><rect x="1608" y="786" width="3" height="1"/><rect x="1608" y="808" width="3" height="1"/><rect x="1614" y="786" width="3" height="1"/><rect x="1614" y="808" width="3" height="1"/><rect x="1620" y="786" width="3" height="1"/><rect x="1620" y="808" width="3" height="1"/><rect x="1626" y="786" width="3" height="1"/><rect x="1626" y="808" width="3" height="1"/><rect x="1632" y="786" width="3" height="1"/><rect x="1632" y="808" width="3" height="1"/><rect x="1638" y="786" width="3" height="1"/><rect x="1638" y="808" width="3" height="1"/></g><polyline points="0,787.7 1.5,787.7 5.5,787.3 9.5,787.1 13.5,792.3 17.5,791.0 21.5,795.0 25.5,796.7 29.5,798.5 33.5,800.6 37.5,802.9 41.5,800.3 45.5,796.1 49.5,801.2 53.5,801.3 57.5,801.7 61.5,803.1 65.5,797.3 69.5,798.0 73.5,799.1 77.5,797.7 81.5,796.2 85.5,796.7 89.5,793.9 93.5,797.9 97.5,796.3 101.5,796.2 105.5,796.3 109.5,795.9 113.5,798.8 117.5,799.2 121.5,798.5 125.5,800.0 129.5,801.1 133.5,803.8 137.5,799.9 141.5,794.8 145.5,794.8 149.5,794.6 153.5,791.8 157.5,791.5 161.5,788.9 165.5,784.8 169.5,785.8 173.5,783.8 177.5,783.7 181.5,788.4 185.5,792.1 189.5,794.8 193.5,797.2 197.5,797.8 201.5,797.2 205.5,797.6 209.5,793.1 213.5,798.5 217.5,800.4 221.5,800.0 225.5,800.2 229.5,799.0 233.5,800.6 237.5,804.4 241.5,806.7 245.5,807.6 249.5,807.8 253.5,804.1 257.5,804.6 261.5,800.6 265.5,801.2 269.5,800.9 273.5,802.2 277.5,803.6 281.5,806.9 285.5,811.6 289.5,812.7 293.5,812.6 297.5,811.5 301.5,813.6 305.5,811.7 309.5,812.9 313.5,813.2 317.5,811.1 321.5,811.9 325.5,811.9 329.5,812.1 333.5,810.4 337.5,809.1 341.5,795.1 345.5,796.9 349.5,798.6 353.5,796.4 357.5,795.9 361.5,795.3 365.5,796.1 369.5,797.0 373.5,794.8 377.5,796.9 381.5,796.5 385.5,797.2 389.5,796.0 393.5,796.5 397.5,797.9 401.5,801.1 405.5,803.2 409.5,806.3 413.5,806.4 417.5,806.7 421.5,801.5 425.5,798.5 429.5,804.3 433.5,802.0 437.5,802.3 441.5,801.3 445.5,795.8 449.5,792.0 453.5,791.4 457.5,789.6 461.5,791.0 465.5,790.2 469.5,791.6 473.5,789.9 477.5,792.3 481.5,794.1 485.5,795.2 489.5,796.5 493.5,795.3 497.5,794.9 501.5,796.9 505.5,792.3 509.5,790.9 513.5,789.9 517.5,789.5 521.5,793.6 525.5,792.3 529.5,792.8 533.5,794.3 537.5,793.0 541.5,802.3 545.5,799.2 549.5,795.2 553.5,792.1 557.5,792.3 561.5,791.8 565.5,790.9 569.5,791.7 573.5,795.5 577.5,796.8 581.5,799.0 585.5,800.4 589.5,796.5 593.5,798.3 597.5,802.8 601.5,801.9 605.5,802.2 609.5,802.6 613.5,803.1 617.5,803.1 621.5,807.8 625.5,807.9 629.5,808.2 633.5,807.8 637.5,806.2 641.5,806.0 645.5,803.5 649.5,799.1 653.5,798.5 657.5,799.6 661.5,800.9 665.5,805.8 669.5,803.8 673.5,804.4 677.5,803.9 681.5,799.4 685.5,797.9 689.5,799.3 693.5,799.5 697.5,796.9 701.5,798.6 705.5,800.9 709.5,801.8 713.5,800.9 717.5,806.0 721.5,806.0 725.5,804.4 729.5,805.0 733.5,804.0 737.5,803.5 741.5,806.4 745.5,808.7 749.5,809.2 753.5,809.2 757.5,807.2 761.5,799.3 765.5,803.6 769.5,805.6 773.5,804.6 777.5,803.5 781.5,801.7 785.5,804.0 789.5,799.0 793.5,797.5 797.5,797.2 801.5,796.2 805.5,795.8 809.5,794.2 813.5,803.7 817.5,802.9 821.5,802.5 825.5,802.8 829.5,798.8 833.5,800.3 837.5,798.0 841.5,801.6 845.5,802.8 849.5,803.2 853.5,806.5 857.5,805.0 861.5,808.6 865.5,810.0 869.5,810.0 873.5,810.1 877.5,809.3 881.5,810.1 885.5,813.1 889.5,810.4 893.5,809.2 897.5,809.9 901.5,807.2 905.5,805.8 909.5,806.4 913.5,807.7 917.5,806.7 921.5,804.8 925.5,802.9 929.5,801.5 933.5,797.7 937.5,798.6 941.5,801.2 945.5,801.4 949.5,798.4 953.5,799.3 957.5,793.5 961.5,793.3 965.5,793.7 969.5,794.0 973.5,794.6 977.5,792.2 981.5,795.3 985.5,795.9 989.5,795.4 993.5,793.7 997.5,798.0 1001.5,800.0 1005.5,800.8 1009.5,803.6 1013.5,805.9 1017.5,805.2 1021.5,803.0 1025.5,804.1 1029.5,813.0 1033.5,809.9 1037.5,809.4 1041.5,809.2 1045.5,805.8 1049.5,804.6 1053.5,797.1 1057.5,797.2 1061.5,796.1 1065.5,794.8 1069.5,795.0 1073.5,791.2 1077.5,790.2 1081.5,793.5 1085.5,792.8 1089.5,794.7 1093.5,795.6 1097.5,795.6 1101.5,794.3 1105.5,792.7 1109.5,794.0 1113.5,794.2 1117.5,796.7 1121.5,805.2 1125.5,799.7 1129.5,797.2 1133.5,799.3 1137.5,798.9 1141.5,800.1 1145.5,799.4 1149.5,797.5 1153.5,798.2 1157.5,796.5 1161.5,797.7 1165.5,797.2 1169.5,799.3 1173.5,800.0 1177.5,802.8 1181.5,802.8 1185.5,803.5 1189.5,805.0 1193.5,803.4 1197.5,804.2 1201.5,801.5 1205.5,799.8 1209.5,802.4 1213.5,797.0 1217.5,799.6 1221.5,793.3 1225.5,795.0 1229.5,794.6 1233.5,795.2 1237.5,792.6 1241.5,792.2 1245.5,791.1 1249.5,791.4 1253.5,792.4 1257.5,789.8 1261.5,788.8 1265.5,787.3" fill="none" stroke="#1e90ff" stroke-width="1" shape-rendering="crispEdges"/><g fill="#ffffff" shape-rendering="crispEdges"><rect x="0" y="690" width="1645" height="1"/><rect x="0" y="692" width="1645" height="1"/><rect x="0" y="767" width="1645" height="1"/><rect x="0" y="769" width="1645" height="1"/><rect x="1644" y="0" width="1" height="691"/><rect x="1644" y="692" width="1" height="76"/><rect x="1644" y="769" width="1" height="53"/><rect x="1645" y="34" width="2" height="1"/><rect x="1645" y="83" width="2" height="1"/><rect x="1645" y="132" width="2" height="1"/><rect x="1645" y="181" width="2" height="1"/><rect x="1645" y="230" width="2" height="1"/><rect x="1645" y="279" width="2" height="1"/><rect x="1645" y="328" width="2" height="1"/><rect x="1645" y="377" width="2" height="1"/><rect x="1645" y="426" width="2" height="1"/><rect x="1645" y="524" width="2" height="1"/><rect x="1645" y="573" width="2" height="1"/><rect x="1645" y="622" width="2" height="1"/><rect x="1645" y="671" width="2" height="1"/><rect x="1645" y="694" width="2" height="1"/><rect x="1645" y="720" width="2" height="1"/><rect x="1645" y="766" width="2" height="1"/><rect x="1645" y="771" width="2" height="1"/></g><line x1="90" y1="-2.2" x2="1386" y2="505.5" stroke="#1e90ff" stroke-width="2" shape-rendering="crispEdges"/><line x1="981.5" y1="457.0" x2="1406" y2="626.0" stroke="#ffffff" stroke-width="2.6" shape-rendering="crispEdges"/><g fill="none" stroke="#ffffff" stroke-width="2.8" stroke-linecap="butt" stroke-linejoin="miter" shape-rendering="crispEdges"><path d="M1289.3 438.5 L1315.6 355.5"/><path d="M1304 368.3 L1315.2 356.6"/><path d="M1315.6 356 L1317.6 371"/><path d="M1310.3 622.2 L1325.6 665.3"/><path d="M1317.6 658.3 L1325 664.8"/><path d="M1330.9 654 L1329.5 665.3"/></g><g fill="none" stroke="#ee1d25" stroke-width="2.8" stroke-linecap="butt" shape-rendering="crispEdges"><path d="M1289.3 484.8 L1304.2 564"/><path d="M1308.8 565.3 L1321.6 531.5"/></g><path d="M1324.3 518.2 L1327.2 518.2 L1327.2 533.7 L1323.6 533.7 L1322.6 531.2 L1319.2 532.2 L1316.6 530.3 Z" fill="#ee1d25"/><path d="M1345 396 H1348 V399 H1347 V400 H1344 V397 H1345 Z" fill="#000"/><path d="M1270.5 0 L1276.5 0 L1273.5 3.5 Z" fill="#8a9bb0"/><rect x="1646" y="470" width="41" height="14" fill="#ffffff"/><path d="M1645 477.5 L1646.5 475.5 L1646.5 479.5 Z" fill="#ffffff"/></svg>
<div class="ax" style="left:1651px;top:28px">94.90</div><div class="ax" style="left:1651px;top:77px">93.15</div><div class="ax" style="left:1651px;top:126px">91.40</div><div class="ax" style="left:1651px;top:175px">89.65</div><div class="ax" style="left:1651px;top:224px">87.90</div><div class="ax" style="left:1651px;top:273px">86.15</div><div class="ax" style="left:1651px;top:322px">84.40</div><div class="ax" style="left:1651px;top:371px">82.65</div><div class="ax" style="left:1651px;top:420px">80.90</div><div class="ax" style="left:1651px;top:518px">77.40</div><div class="ax" style="left:1651px;top:567px">75.65</div><div class="ax" style="left:1651px;top:616px">73.90</div><div class="ax" style="left:1651px;top:665px">72.15</div><div class="ax dk" style="left:1651px;top:471px">79.08</div><div class="ax" style="left:-4px;top:0px">79.08</div><div class="ax" style="left:1648px;top:695px">1.292</div><div class="ax" style="left:1648px;top:714px">0.00</div><div class="ax" style="left:1648px;top:753px">-2.235</div><div class="ax" style="left:1648px;top:772px">100</div><div class="ax" style="left:1648px;top:780px">70</div><div class="ax" style="left:1647px;top:802px">30</div><div class="ax" style="left:1648px;top:811px">0</div>
<div class="ttl" style="left:850.6px;top:137px;transform:scaleX(1.134)">Crude Oil</div>
<div class="ttl" style="left:853px;top:180px;transform:scaleX(1.161)">H4 Chart</div>
<div class="lv" style="left:1294px;top:324px;color:#1e90ff;transform:scaleX(1.25)">82.20</div>
<div class="lv" style="left:1261.5px;top:440px;color:#1e90ff;transform:scaleX(1.25)">79.80</div>
<div class="lv" style="left:1262px;top:595px;color:#ffffff;transform:scaleX(1.25)">75.70</div>
<div class="lv" style="left:1301.5px;top:670px;color:#1e90ff;transform:scaleX(1.25)">72.15</div>
<div class="lv" style="left:1368px;top:743px;color:#ffffff;transform:scaleX(1.25)">68.00</div>
</body></html>
